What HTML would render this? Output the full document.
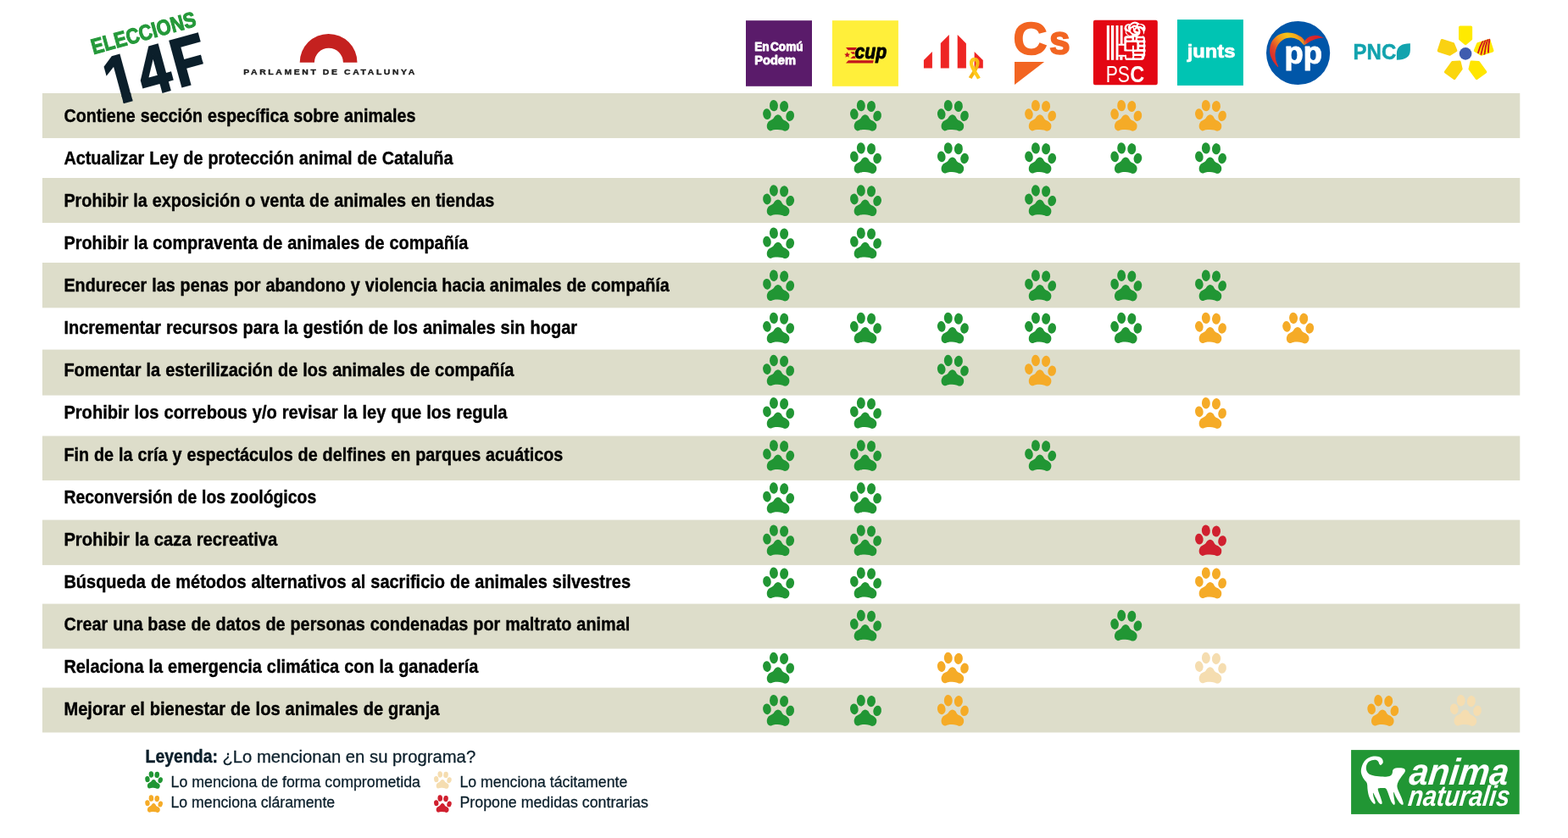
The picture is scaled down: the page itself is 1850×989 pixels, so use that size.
<!DOCTYPE html>
<html lang="es"><head><meta charset="utf-8"><title>Eleccions 14F - AnimaNaturalis</title>
<style>html,body{margin:0;padding:0;background:#fff;}svg{display:block;}text{font-family:"Liberation Sans",sans-serif;}</style>
</head><body>
<svg width="1850" height="989" viewBox="0 0 1850 989">
<rect width="1850" height="989" fill="#fff"/>
<rect x="50" y="110.0" width="1743.3" height="53.0" fill="#DDDDCA"/>
<rect x="50" y="210.0" width="1743.3" height="53.0" fill="#DDDDCA"/>
<rect x="50" y="310.0" width="1743.3" height="53.3" fill="#DDDDCA"/>
<rect x="50" y="412.6" width="1743.3" height="54.0" fill="#DDDDCA"/>
<rect x="50" y="514.5" width="1743.3" height="52.5" fill="#DDDDCA"/>
<rect x="50" y="613.6" width="1743.3" height="53.3" fill="#DDDDCA"/>
<rect x="50" y="712.6" width="1743.3" height="53.0" fill="#DDDDCA"/>
<rect x="50" y="811.6" width="1743.3" height="52.9" fill="#DDDDCA"/>
<text x="75.4" y="143.8" font-size="22.7" font-weight="bold" fill="#000" stroke="#000" stroke-width="0.4" word-spacing="0.5" textLength="415.0" lengthAdjust="spacingAndGlyphs">Contiene sección específica sobre animales</text>
<g transform="translate(918.6 136.4) scale(1.000)" fill="#219634"><ellipse cx="-5.66" cy="-11.75" rx="4.95" ry="6.7" transform="rotate(-3 -5.66 -11.75)"/><ellipse cx="6.5" cy="-10.9" rx="5" ry="6.6" transform="rotate(5 6.5 -10.9)"/><ellipse cx="-13.66" cy="-1.7" rx="4.8" ry="6.4" transform="rotate(-8 -13.66 -1.7)"/><ellipse cx="13.6" cy="0.42" rx="4.8" ry="6.2" transform="rotate(12 13.6 0.42)"/><path d="M-0.70 -1.10 C0.38 -1.07 1.60 -0.33 2.60 0.60 C3.60 1.53 4.13 3.43 5.30 4.50 C6.47 5.57 8.42 6.05 9.60 7.00 C10.78 7.95 11.90 9.03 12.40 10.20 C12.90 11.37 12.87 12.83 12.60 14.00 C12.33 15.17 11.63 16.47 10.80 17.20 C9.97 17.93 8.75 18.40 7.60 18.40 C6.45 18.40 5.33 17.52 3.90 17.20 C2.47 16.88 0.65 16.55 -1.00 16.50 C-2.65 16.45 -4.52 16.65 -6.00 16.90 C-7.48 17.15 -8.75 18.17 -9.90 18.00 C-11.05 17.83 -12.25 16.93 -12.90 15.90 C-13.55 14.87 -13.92 13.18 -13.80 11.80 C-13.68 10.42 -13.00 8.68 -12.20 7.60 C-11.40 6.52 -9.98 5.97 -9.00 5.30 C-8.02 4.63 -7.15 4.42 -6.30 3.60 C-5.45 2.78 -4.83 1.18 -3.90 0.40 C-2.97 -0.38 -1.78 -1.13 -0.70 -1.10Z"/></g>
<g transform="translate(1021.5 136.4) scale(1.000)" fill="#219634"><ellipse cx="-5.66" cy="-11.75" rx="4.95" ry="6.7" transform="rotate(-3 -5.66 -11.75)"/><ellipse cx="6.5" cy="-10.9" rx="5" ry="6.6" transform="rotate(5 6.5 -10.9)"/><ellipse cx="-13.66" cy="-1.7" rx="4.8" ry="6.4" transform="rotate(-8 -13.66 -1.7)"/><ellipse cx="13.6" cy="0.42" rx="4.8" ry="6.2" transform="rotate(12 13.6 0.42)"/><path d="M-0.70 -1.10 C0.38 -1.07 1.60 -0.33 2.60 0.60 C3.60 1.53 4.13 3.43 5.30 4.50 C6.47 5.57 8.42 6.05 9.60 7.00 C10.78 7.95 11.90 9.03 12.40 10.20 C12.90 11.37 12.87 12.83 12.60 14.00 C12.33 15.17 11.63 16.47 10.80 17.20 C9.97 17.93 8.75 18.40 7.60 18.40 C6.45 18.40 5.33 17.52 3.90 17.20 C2.47 16.88 0.65 16.55 -1.00 16.50 C-2.65 16.45 -4.52 16.65 -6.00 16.90 C-7.48 17.15 -8.75 18.17 -9.90 18.00 C-11.05 17.83 -12.25 16.93 -12.90 15.90 C-13.55 14.87 -13.92 13.18 -13.80 11.80 C-13.68 10.42 -13.00 8.68 -12.20 7.60 C-11.40 6.52 -9.98 5.97 -9.00 5.30 C-8.02 4.63 -7.15 4.42 -6.30 3.60 C-5.45 2.78 -4.83 1.18 -3.90 0.40 C-2.97 -0.38 -1.78 -1.13 -0.70 -1.10Z"/></g>
<g transform="translate(1124.4 136.4) scale(1.000)" fill="#219634"><ellipse cx="-5.66" cy="-11.75" rx="4.95" ry="6.7" transform="rotate(-3 -5.66 -11.75)"/><ellipse cx="6.5" cy="-10.9" rx="5" ry="6.6" transform="rotate(5 6.5 -10.9)"/><ellipse cx="-13.66" cy="-1.7" rx="4.8" ry="6.4" transform="rotate(-8 -13.66 -1.7)"/><ellipse cx="13.6" cy="0.42" rx="4.8" ry="6.2" transform="rotate(12 13.6 0.42)"/><path d="M-0.70 -1.10 C0.38 -1.07 1.60 -0.33 2.60 0.60 C3.60 1.53 4.13 3.43 5.30 4.50 C6.47 5.57 8.42 6.05 9.60 7.00 C10.78 7.95 11.90 9.03 12.40 10.20 C12.90 11.37 12.87 12.83 12.60 14.00 C12.33 15.17 11.63 16.47 10.80 17.20 C9.97 17.93 8.75 18.40 7.60 18.40 C6.45 18.40 5.33 17.52 3.90 17.20 C2.47 16.88 0.65 16.55 -1.00 16.50 C-2.65 16.45 -4.52 16.65 -6.00 16.90 C-7.48 17.15 -8.75 18.17 -9.90 18.00 C-11.05 17.83 -12.25 16.93 -12.90 15.90 C-13.55 14.87 -13.92 13.18 -13.80 11.80 C-13.68 10.42 -13.00 8.68 -12.20 7.60 C-11.40 6.52 -9.98 5.97 -9.00 5.30 C-8.02 4.63 -7.15 4.42 -6.30 3.60 C-5.45 2.78 -4.83 1.18 -3.90 0.40 C-2.97 -0.38 -1.78 -1.13 -0.70 -1.10Z"/></g>
<g transform="translate(1227.6 136.4) scale(1.000)" fill="#F5AB27"><ellipse cx="-5.66" cy="-11.75" rx="4.95" ry="6.7" transform="rotate(-3 -5.66 -11.75)"/><ellipse cx="6.5" cy="-10.9" rx="5" ry="6.6" transform="rotate(5 6.5 -10.9)"/><ellipse cx="-13.66" cy="-1.7" rx="4.8" ry="6.4" transform="rotate(-8 -13.66 -1.7)"/><ellipse cx="13.6" cy="0.42" rx="4.8" ry="6.2" transform="rotate(12 13.6 0.42)"/><path d="M-0.70 -1.10 C0.38 -1.07 1.60 -0.33 2.60 0.60 C3.60 1.53 4.13 3.43 5.30 4.50 C6.47 5.57 8.42 6.05 9.60 7.00 C10.78 7.95 11.90 9.03 12.40 10.20 C12.90 11.37 12.87 12.83 12.60 14.00 C12.33 15.17 11.63 16.47 10.80 17.20 C9.97 17.93 8.75 18.40 7.60 18.40 C6.45 18.40 5.33 17.52 3.90 17.20 C2.47 16.88 0.65 16.55 -1.00 16.50 C-2.65 16.45 -4.52 16.65 -6.00 16.90 C-7.48 17.15 -8.75 18.17 -9.90 18.00 C-11.05 17.83 -12.25 16.93 -12.90 15.90 C-13.55 14.87 -13.92 13.18 -13.80 11.80 C-13.68 10.42 -13.00 8.68 -12.20 7.60 C-11.40 6.52 -9.98 5.97 -9.00 5.30 C-8.02 4.63 -7.15 4.42 -6.30 3.60 C-5.45 2.78 -4.83 1.18 -3.90 0.40 C-2.97 -0.38 -1.78 -1.13 -0.70 -1.10Z"/></g>
<g transform="translate(1328.8 136.4) scale(1.000)" fill="#F5AB27"><ellipse cx="-5.66" cy="-11.75" rx="4.95" ry="6.7" transform="rotate(-3 -5.66 -11.75)"/><ellipse cx="6.5" cy="-10.9" rx="5" ry="6.6" transform="rotate(5 6.5 -10.9)"/><ellipse cx="-13.66" cy="-1.7" rx="4.8" ry="6.4" transform="rotate(-8 -13.66 -1.7)"/><ellipse cx="13.6" cy="0.42" rx="4.8" ry="6.2" transform="rotate(12 13.6 0.42)"/><path d="M-0.70 -1.10 C0.38 -1.07 1.60 -0.33 2.60 0.60 C3.60 1.53 4.13 3.43 5.30 4.50 C6.47 5.57 8.42 6.05 9.60 7.00 C10.78 7.95 11.90 9.03 12.40 10.20 C12.90 11.37 12.87 12.83 12.60 14.00 C12.33 15.17 11.63 16.47 10.80 17.20 C9.97 17.93 8.75 18.40 7.60 18.40 C6.45 18.40 5.33 17.52 3.90 17.20 C2.47 16.88 0.65 16.55 -1.00 16.50 C-2.65 16.45 -4.52 16.65 -6.00 16.90 C-7.48 17.15 -8.75 18.17 -9.90 18.00 C-11.05 17.83 -12.25 16.93 -12.90 15.90 C-13.55 14.87 -13.92 13.18 -13.80 11.80 C-13.68 10.42 -13.00 8.68 -12.20 7.60 C-11.40 6.52 -9.98 5.97 -9.00 5.30 C-8.02 4.63 -7.15 4.42 -6.30 3.60 C-5.45 2.78 -4.83 1.18 -3.90 0.40 C-2.97 -0.38 -1.78 -1.13 -0.70 -1.10Z"/></g>
<g transform="translate(1428.5 136.4) scale(1.000)" fill="#F5AB27"><ellipse cx="-5.66" cy="-11.75" rx="4.95" ry="6.7" transform="rotate(-3 -5.66 -11.75)"/><ellipse cx="6.5" cy="-10.9" rx="5" ry="6.6" transform="rotate(5 6.5 -10.9)"/><ellipse cx="-13.66" cy="-1.7" rx="4.8" ry="6.4" transform="rotate(-8 -13.66 -1.7)"/><ellipse cx="13.6" cy="0.42" rx="4.8" ry="6.2" transform="rotate(12 13.6 0.42)"/><path d="M-0.70 -1.10 C0.38 -1.07 1.60 -0.33 2.60 0.60 C3.60 1.53 4.13 3.43 5.30 4.50 C6.47 5.57 8.42 6.05 9.60 7.00 C10.78 7.95 11.90 9.03 12.40 10.20 C12.90 11.37 12.87 12.83 12.60 14.00 C12.33 15.17 11.63 16.47 10.80 17.20 C9.97 17.93 8.75 18.40 7.60 18.40 C6.45 18.40 5.33 17.52 3.90 17.20 C2.47 16.88 0.65 16.55 -1.00 16.50 C-2.65 16.45 -4.52 16.65 -6.00 16.90 C-7.48 17.15 -8.75 18.17 -9.90 18.00 C-11.05 17.83 -12.25 16.93 -12.90 15.90 C-13.55 14.87 -13.92 13.18 -13.80 11.80 C-13.68 10.42 -13.00 8.68 -12.20 7.60 C-11.40 6.52 -9.98 5.97 -9.00 5.30 C-8.02 4.63 -7.15 4.42 -6.30 3.60 C-5.45 2.78 -4.83 1.18 -3.90 0.40 C-2.97 -0.38 -1.78 -1.13 -0.70 -1.10Z"/></g>
<text x="75.4" y="193.8" font-size="22.7" font-weight="bold" fill="#000" stroke="#000" stroke-width="0.4" word-spacing="0.5" textLength="459.1" lengthAdjust="spacingAndGlyphs">Actualizar Ley de protección animal de Cataluña</text>
<g transform="translate(1021.5 186.6) scale(1.000)" fill="#219634"><ellipse cx="-5.66" cy="-11.75" rx="4.95" ry="6.7" transform="rotate(-3 -5.66 -11.75)"/><ellipse cx="6.5" cy="-10.9" rx="5" ry="6.6" transform="rotate(5 6.5 -10.9)"/><ellipse cx="-13.66" cy="-1.7" rx="4.8" ry="6.4" transform="rotate(-8 -13.66 -1.7)"/><ellipse cx="13.6" cy="0.42" rx="4.8" ry="6.2" transform="rotate(12 13.6 0.42)"/><path d="M-0.70 -1.10 C0.38 -1.07 1.60 -0.33 2.60 0.60 C3.60 1.53 4.13 3.43 5.30 4.50 C6.47 5.57 8.42 6.05 9.60 7.00 C10.78 7.95 11.90 9.03 12.40 10.20 C12.90 11.37 12.87 12.83 12.60 14.00 C12.33 15.17 11.63 16.47 10.80 17.20 C9.97 17.93 8.75 18.40 7.60 18.40 C6.45 18.40 5.33 17.52 3.90 17.20 C2.47 16.88 0.65 16.55 -1.00 16.50 C-2.65 16.45 -4.52 16.65 -6.00 16.90 C-7.48 17.15 -8.75 18.17 -9.90 18.00 C-11.05 17.83 -12.25 16.93 -12.90 15.90 C-13.55 14.87 -13.92 13.18 -13.80 11.80 C-13.68 10.42 -13.00 8.68 -12.20 7.60 C-11.40 6.52 -9.98 5.97 -9.00 5.30 C-8.02 4.63 -7.15 4.42 -6.30 3.60 C-5.45 2.78 -4.83 1.18 -3.90 0.40 C-2.97 -0.38 -1.78 -1.13 -0.70 -1.10Z"/></g>
<g transform="translate(1124.4 186.6) scale(1.000)" fill="#219634"><ellipse cx="-5.66" cy="-11.75" rx="4.95" ry="6.7" transform="rotate(-3 -5.66 -11.75)"/><ellipse cx="6.5" cy="-10.9" rx="5" ry="6.6" transform="rotate(5 6.5 -10.9)"/><ellipse cx="-13.66" cy="-1.7" rx="4.8" ry="6.4" transform="rotate(-8 -13.66 -1.7)"/><ellipse cx="13.6" cy="0.42" rx="4.8" ry="6.2" transform="rotate(12 13.6 0.42)"/><path d="M-0.70 -1.10 C0.38 -1.07 1.60 -0.33 2.60 0.60 C3.60 1.53 4.13 3.43 5.30 4.50 C6.47 5.57 8.42 6.05 9.60 7.00 C10.78 7.95 11.90 9.03 12.40 10.20 C12.90 11.37 12.87 12.83 12.60 14.00 C12.33 15.17 11.63 16.47 10.80 17.20 C9.97 17.93 8.75 18.40 7.60 18.40 C6.45 18.40 5.33 17.52 3.90 17.20 C2.47 16.88 0.65 16.55 -1.00 16.50 C-2.65 16.45 -4.52 16.65 -6.00 16.90 C-7.48 17.15 -8.75 18.17 -9.90 18.00 C-11.05 17.83 -12.25 16.93 -12.90 15.90 C-13.55 14.87 -13.92 13.18 -13.80 11.80 C-13.68 10.42 -13.00 8.68 -12.20 7.60 C-11.40 6.52 -9.98 5.97 -9.00 5.30 C-8.02 4.63 -7.15 4.42 -6.30 3.60 C-5.45 2.78 -4.83 1.18 -3.90 0.40 C-2.97 -0.38 -1.78 -1.13 -0.70 -1.10Z"/></g>
<g transform="translate(1227.6 186.6) scale(1.000)" fill="#219634"><ellipse cx="-5.66" cy="-11.75" rx="4.95" ry="6.7" transform="rotate(-3 -5.66 -11.75)"/><ellipse cx="6.5" cy="-10.9" rx="5" ry="6.6" transform="rotate(5 6.5 -10.9)"/><ellipse cx="-13.66" cy="-1.7" rx="4.8" ry="6.4" transform="rotate(-8 -13.66 -1.7)"/><ellipse cx="13.6" cy="0.42" rx="4.8" ry="6.2" transform="rotate(12 13.6 0.42)"/><path d="M-0.70 -1.10 C0.38 -1.07 1.60 -0.33 2.60 0.60 C3.60 1.53 4.13 3.43 5.30 4.50 C6.47 5.57 8.42 6.05 9.60 7.00 C10.78 7.95 11.90 9.03 12.40 10.20 C12.90 11.37 12.87 12.83 12.60 14.00 C12.33 15.17 11.63 16.47 10.80 17.20 C9.97 17.93 8.75 18.40 7.60 18.40 C6.45 18.40 5.33 17.52 3.90 17.20 C2.47 16.88 0.65 16.55 -1.00 16.50 C-2.65 16.45 -4.52 16.65 -6.00 16.90 C-7.48 17.15 -8.75 18.17 -9.90 18.00 C-11.05 17.83 -12.25 16.93 -12.90 15.90 C-13.55 14.87 -13.92 13.18 -13.80 11.80 C-13.68 10.42 -13.00 8.68 -12.20 7.60 C-11.40 6.52 -9.98 5.97 -9.00 5.30 C-8.02 4.63 -7.15 4.42 -6.30 3.60 C-5.45 2.78 -4.83 1.18 -3.90 0.40 C-2.97 -0.38 -1.78 -1.13 -0.70 -1.10Z"/></g>
<g transform="translate(1328.8 186.6) scale(1.000)" fill="#219634"><ellipse cx="-5.66" cy="-11.75" rx="4.95" ry="6.7" transform="rotate(-3 -5.66 -11.75)"/><ellipse cx="6.5" cy="-10.9" rx="5" ry="6.6" transform="rotate(5 6.5 -10.9)"/><ellipse cx="-13.66" cy="-1.7" rx="4.8" ry="6.4" transform="rotate(-8 -13.66 -1.7)"/><ellipse cx="13.6" cy="0.42" rx="4.8" ry="6.2" transform="rotate(12 13.6 0.42)"/><path d="M-0.70 -1.10 C0.38 -1.07 1.60 -0.33 2.60 0.60 C3.60 1.53 4.13 3.43 5.30 4.50 C6.47 5.57 8.42 6.05 9.60 7.00 C10.78 7.95 11.90 9.03 12.40 10.20 C12.90 11.37 12.87 12.83 12.60 14.00 C12.33 15.17 11.63 16.47 10.80 17.20 C9.97 17.93 8.75 18.40 7.60 18.40 C6.45 18.40 5.33 17.52 3.90 17.20 C2.47 16.88 0.65 16.55 -1.00 16.50 C-2.65 16.45 -4.52 16.65 -6.00 16.90 C-7.48 17.15 -8.75 18.17 -9.90 18.00 C-11.05 17.83 -12.25 16.93 -12.90 15.90 C-13.55 14.87 -13.92 13.18 -13.80 11.80 C-13.68 10.42 -13.00 8.68 -12.20 7.60 C-11.40 6.52 -9.98 5.97 -9.00 5.30 C-8.02 4.63 -7.15 4.42 -6.30 3.60 C-5.45 2.78 -4.83 1.18 -3.90 0.40 C-2.97 -0.38 -1.78 -1.13 -0.70 -1.10Z"/></g>
<g transform="translate(1428.5 186.6) scale(1.000)" fill="#219634"><ellipse cx="-5.66" cy="-11.75" rx="4.95" ry="6.7" transform="rotate(-3 -5.66 -11.75)"/><ellipse cx="6.5" cy="-10.9" rx="5" ry="6.6" transform="rotate(5 6.5 -10.9)"/><ellipse cx="-13.66" cy="-1.7" rx="4.8" ry="6.4" transform="rotate(-8 -13.66 -1.7)"/><ellipse cx="13.6" cy="0.42" rx="4.8" ry="6.2" transform="rotate(12 13.6 0.42)"/><path d="M-0.70 -1.10 C0.38 -1.07 1.60 -0.33 2.60 0.60 C3.60 1.53 4.13 3.43 5.30 4.50 C6.47 5.57 8.42 6.05 9.60 7.00 C10.78 7.95 11.90 9.03 12.40 10.20 C12.90 11.37 12.87 12.83 12.60 14.00 C12.33 15.17 11.63 16.47 10.80 17.20 C9.97 17.93 8.75 18.40 7.60 18.40 C6.45 18.40 5.33 17.52 3.90 17.20 C2.47 16.88 0.65 16.55 -1.00 16.50 C-2.65 16.45 -4.52 16.65 -6.00 16.90 C-7.48 17.15 -8.75 18.17 -9.90 18.00 C-11.05 17.83 -12.25 16.93 -12.90 15.90 C-13.55 14.87 -13.92 13.18 -13.80 11.80 C-13.68 10.42 -13.00 8.68 -12.20 7.60 C-11.40 6.52 -9.98 5.97 -9.00 5.30 C-8.02 4.63 -7.15 4.42 -6.30 3.60 C-5.45 2.78 -4.83 1.18 -3.90 0.40 C-2.97 -0.38 -1.78 -1.13 -0.70 -1.10Z"/></g>
<text x="75.4" y="243.8" font-size="22.7" font-weight="bold" fill="#000" stroke="#000" stroke-width="0.4" word-spacing="0.5" textLength="508.0" lengthAdjust="spacingAndGlyphs">Prohibir la exposición o venta de animales en tiendas</text>
<g transform="translate(918.6 236.7) scale(1.000)" fill="#219634"><ellipse cx="-5.66" cy="-11.75" rx="4.95" ry="6.7" transform="rotate(-3 -5.66 -11.75)"/><ellipse cx="6.5" cy="-10.9" rx="5" ry="6.6" transform="rotate(5 6.5 -10.9)"/><ellipse cx="-13.66" cy="-1.7" rx="4.8" ry="6.4" transform="rotate(-8 -13.66 -1.7)"/><ellipse cx="13.6" cy="0.42" rx="4.8" ry="6.2" transform="rotate(12 13.6 0.42)"/><path d="M-0.70 -1.10 C0.38 -1.07 1.60 -0.33 2.60 0.60 C3.60 1.53 4.13 3.43 5.30 4.50 C6.47 5.57 8.42 6.05 9.60 7.00 C10.78 7.95 11.90 9.03 12.40 10.20 C12.90 11.37 12.87 12.83 12.60 14.00 C12.33 15.17 11.63 16.47 10.80 17.20 C9.97 17.93 8.75 18.40 7.60 18.40 C6.45 18.40 5.33 17.52 3.90 17.20 C2.47 16.88 0.65 16.55 -1.00 16.50 C-2.65 16.45 -4.52 16.65 -6.00 16.90 C-7.48 17.15 -8.75 18.17 -9.90 18.00 C-11.05 17.83 -12.25 16.93 -12.90 15.90 C-13.55 14.87 -13.92 13.18 -13.80 11.80 C-13.68 10.42 -13.00 8.68 -12.20 7.60 C-11.40 6.52 -9.98 5.97 -9.00 5.30 C-8.02 4.63 -7.15 4.42 -6.30 3.60 C-5.45 2.78 -4.83 1.18 -3.90 0.40 C-2.97 -0.38 -1.78 -1.13 -0.70 -1.10Z"/></g>
<g transform="translate(1021.5 236.7) scale(1.000)" fill="#219634"><ellipse cx="-5.66" cy="-11.75" rx="4.95" ry="6.7" transform="rotate(-3 -5.66 -11.75)"/><ellipse cx="6.5" cy="-10.9" rx="5" ry="6.6" transform="rotate(5 6.5 -10.9)"/><ellipse cx="-13.66" cy="-1.7" rx="4.8" ry="6.4" transform="rotate(-8 -13.66 -1.7)"/><ellipse cx="13.6" cy="0.42" rx="4.8" ry="6.2" transform="rotate(12 13.6 0.42)"/><path d="M-0.70 -1.10 C0.38 -1.07 1.60 -0.33 2.60 0.60 C3.60 1.53 4.13 3.43 5.30 4.50 C6.47 5.57 8.42 6.05 9.60 7.00 C10.78 7.95 11.90 9.03 12.40 10.20 C12.90 11.37 12.87 12.83 12.60 14.00 C12.33 15.17 11.63 16.47 10.80 17.20 C9.97 17.93 8.75 18.40 7.60 18.40 C6.45 18.40 5.33 17.52 3.90 17.20 C2.47 16.88 0.65 16.55 -1.00 16.50 C-2.65 16.45 -4.52 16.65 -6.00 16.90 C-7.48 17.15 -8.75 18.17 -9.90 18.00 C-11.05 17.83 -12.25 16.93 -12.90 15.90 C-13.55 14.87 -13.92 13.18 -13.80 11.80 C-13.68 10.42 -13.00 8.68 -12.20 7.60 C-11.40 6.52 -9.98 5.97 -9.00 5.30 C-8.02 4.63 -7.15 4.42 -6.30 3.60 C-5.45 2.78 -4.83 1.18 -3.90 0.40 C-2.97 -0.38 -1.78 -1.13 -0.70 -1.10Z"/></g>
<g transform="translate(1227.6 236.7) scale(1.000)" fill="#219634"><ellipse cx="-5.66" cy="-11.75" rx="4.95" ry="6.7" transform="rotate(-3 -5.66 -11.75)"/><ellipse cx="6.5" cy="-10.9" rx="5" ry="6.6" transform="rotate(5 6.5 -10.9)"/><ellipse cx="-13.66" cy="-1.7" rx="4.8" ry="6.4" transform="rotate(-8 -13.66 -1.7)"/><ellipse cx="13.6" cy="0.42" rx="4.8" ry="6.2" transform="rotate(12 13.6 0.42)"/><path d="M-0.70 -1.10 C0.38 -1.07 1.60 -0.33 2.60 0.60 C3.60 1.53 4.13 3.43 5.30 4.50 C6.47 5.57 8.42 6.05 9.60 7.00 C10.78 7.95 11.90 9.03 12.40 10.20 C12.90 11.37 12.87 12.83 12.60 14.00 C12.33 15.17 11.63 16.47 10.80 17.20 C9.97 17.93 8.75 18.40 7.60 18.40 C6.45 18.40 5.33 17.52 3.90 17.20 C2.47 16.88 0.65 16.55 -1.00 16.50 C-2.65 16.45 -4.52 16.65 -6.00 16.90 C-7.48 17.15 -8.75 18.17 -9.90 18.00 C-11.05 17.83 -12.25 16.93 -12.90 15.90 C-13.55 14.87 -13.92 13.18 -13.80 11.80 C-13.68 10.42 -13.00 8.68 -12.20 7.60 C-11.40 6.52 -9.98 5.97 -9.00 5.30 C-8.02 4.63 -7.15 4.42 -6.30 3.60 C-5.45 2.78 -4.83 1.18 -3.90 0.40 C-2.97 -0.38 -1.78 -1.13 -0.70 -1.10Z"/></g>
<text x="75.4" y="293.8" font-size="22.7" font-weight="bold" fill="#000" stroke="#000" stroke-width="0.4" word-spacing="0.5" textLength="477.0" lengthAdjust="spacingAndGlyphs">Prohibir la compraventa de animales de compañía</text>
<g transform="translate(918.6 286.9) scale(1.000)" fill="#219634"><ellipse cx="-5.66" cy="-11.75" rx="4.95" ry="6.7" transform="rotate(-3 -5.66 -11.75)"/><ellipse cx="6.5" cy="-10.9" rx="5" ry="6.6" transform="rotate(5 6.5 -10.9)"/><ellipse cx="-13.66" cy="-1.7" rx="4.8" ry="6.4" transform="rotate(-8 -13.66 -1.7)"/><ellipse cx="13.6" cy="0.42" rx="4.8" ry="6.2" transform="rotate(12 13.6 0.42)"/><path d="M-0.70 -1.10 C0.38 -1.07 1.60 -0.33 2.60 0.60 C3.60 1.53 4.13 3.43 5.30 4.50 C6.47 5.57 8.42 6.05 9.60 7.00 C10.78 7.95 11.90 9.03 12.40 10.20 C12.90 11.37 12.87 12.83 12.60 14.00 C12.33 15.17 11.63 16.47 10.80 17.20 C9.97 17.93 8.75 18.40 7.60 18.40 C6.45 18.40 5.33 17.52 3.90 17.20 C2.47 16.88 0.65 16.55 -1.00 16.50 C-2.65 16.45 -4.52 16.65 -6.00 16.90 C-7.48 17.15 -8.75 18.17 -9.90 18.00 C-11.05 17.83 -12.25 16.93 -12.90 15.90 C-13.55 14.87 -13.92 13.18 -13.80 11.80 C-13.68 10.42 -13.00 8.68 -12.20 7.60 C-11.40 6.52 -9.98 5.97 -9.00 5.30 C-8.02 4.63 -7.15 4.42 -6.30 3.60 C-5.45 2.78 -4.83 1.18 -3.90 0.40 C-2.97 -0.38 -1.78 -1.13 -0.70 -1.10Z"/></g>
<g transform="translate(1021.5 286.9) scale(1.000)" fill="#219634"><ellipse cx="-5.66" cy="-11.75" rx="4.95" ry="6.7" transform="rotate(-3 -5.66 -11.75)"/><ellipse cx="6.5" cy="-10.9" rx="5" ry="6.6" transform="rotate(5 6.5 -10.9)"/><ellipse cx="-13.66" cy="-1.7" rx="4.8" ry="6.4" transform="rotate(-8 -13.66 -1.7)"/><ellipse cx="13.6" cy="0.42" rx="4.8" ry="6.2" transform="rotate(12 13.6 0.42)"/><path d="M-0.70 -1.10 C0.38 -1.07 1.60 -0.33 2.60 0.60 C3.60 1.53 4.13 3.43 5.30 4.50 C6.47 5.57 8.42 6.05 9.60 7.00 C10.78 7.95 11.90 9.03 12.40 10.20 C12.90 11.37 12.87 12.83 12.60 14.00 C12.33 15.17 11.63 16.47 10.80 17.20 C9.97 17.93 8.75 18.40 7.60 18.40 C6.45 18.40 5.33 17.52 3.90 17.20 C2.47 16.88 0.65 16.55 -1.00 16.50 C-2.65 16.45 -4.52 16.65 -6.00 16.90 C-7.48 17.15 -8.75 18.17 -9.90 18.00 C-11.05 17.83 -12.25 16.93 -12.90 15.90 C-13.55 14.87 -13.92 13.18 -13.80 11.80 C-13.68 10.42 -13.00 8.68 -12.20 7.60 C-11.40 6.52 -9.98 5.97 -9.00 5.30 C-8.02 4.63 -7.15 4.42 -6.30 3.60 C-5.45 2.78 -4.83 1.18 -3.90 0.40 C-2.97 -0.38 -1.78 -1.13 -0.70 -1.10Z"/></g>
<text x="75.4" y="343.8" font-size="22.7" font-weight="bold" fill="#000" stroke="#000" stroke-width="0.4" word-spacing="0.5" textLength="714.4" lengthAdjust="spacingAndGlyphs">Endurecer las penas por abandono y violencia hacia animales de compañía</text>
<g transform="translate(918.6 337.0) scale(1.000)" fill="#219634"><ellipse cx="-5.66" cy="-11.75" rx="4.95" ry="6.7" transform="rotate(-3 -5.66 -11.75)"/><ellipse cx="6.5" cy="-10.9" rx="5" ry="6.6" transform="rotate(5 6.5 -10.9)"/><ellipse cx="-13.66" cy="-1.7" rx="4.8" ry="6.4" transform="rotate(-8 -13.66 -1.7)"/><ellipse cx="13.6" cy="0.42" rx="4.8" ry="6.2" transform="rotate(12 13.6 0.42)"/><path d="M-0.70 -1.10 C0.38 -1.07 1.60 -0.33 2.60 0.60 C3.60 1.53 4.13 3.43 5.30 4.50 C6.47 5.57 8.42 6.05 9.60 7.00 C10.78 7.95 11.90 9.03 12.40 10.20 C12.90 11.37 12.87 12.83 12.60 14.00 C12.33 15.17 11.63 16.47 10.80 17.20 C9.97 17.93 8.75 18.40 7.60 18.40 C6.45 18.40 5.33 17.52 3.90 17.20 C2.47 16.88 0.65 16.55 -1.00 16.50 C-2.65 16.45 -4.52 16.65 -6.00 16.90 C-7.48 17.15 -8.75 18.17 -9.90 18.00 C-11.05 17.83 -12.25 16.93 -12.90 15.90 C-13.55 14.87 -13.92 13.18 -13.80 11.80 C-13.68 10.42 -13.00 8.68 -12.20 7.60 C-11.40 6.52 -9.98 5.97 -9.00 5.30 C-8.02 4.63 -7.15 4.42 -6.30 3.60 C-5.45 2.78 -4.83 1.18 -3.90 0.40 C-2.97 -0.38 -1.78 -1.13 -0.70 -1.10Z"/></g>
<g transform="translate(1227.6 337.0) scale(1.000)" fill="#219634"><ellipse cx="-5.66" cy="-11.75" rx="4.95" ry="6.7" transform="rotate(-3 -5.66 -11.75)"/><ellipse cx="6.5" cy="-10.9" rx="5" ry="6.6" transform="rotate(5 6.5 -10.9)"/><ellipse cx="-13.66" cy="-1.7" rx="4.8" ry="6.4" transform="rotate(-8 -13.66 -1.7)"/><ellipse cx="13.6" cy="0.42" rx="4.8" ry="6.2" transform="rotate(12 13.6 0.42)"/><path d="M-0.70 -1.10 C0.38 -1.07 1.60 -0.33 2.60 0.60 C3.60 1.53 4.13 3.43 5.30 4.50 C6.47 5.57 8.42 6.05 9.60 7.00 C10.78 7.95 11.90 9.03 12.40 10.20 C12.90 11.37 12.87 12.83 12.60 14.00 C12.33 15.17 11.63 16.47 10.80 17.20 C9.97 17.93 8.75 18.40 7.60 18.40 C6.45 18.40 5.33 17.52 3.90 17.20 C2.47 16.88 0.65 16.55 -1.00 16.50 C-2.65 16.45 -4.52 16.65 -6.00 16.90 C-7.48 17.15 -8.75 18.17 -9.90 18.00 C-11.05 17.83 -12.25 16.93 -12.90 15.90 C-13.55 14.87 -13.92 13.18 -13.80 11.80 C-13.68 10.42 -13.00 8.68 -12.20 7.60 C-11.40 6.52 -9.98 5.97 -9.00 5.30 C-8.02 4.63 -7.15 4.42 -6.30 3.60 C-5.45 2.78 -4.83 1.18 -3.90 0.40 C-2.97 -0.38 -1.78 -1.13 -0.70 -1.10Z"/></g>
<g transform="translate(1328.8 337.0) scale(1.000)" fill="#219634"><ellipse cx="-5.66" cy="-11.75" rx="4.95" ry="6.7" transform="rotate(-3 -5.66 -11.75)"/><ellipse cx="6.5" cy="-10.9" rx="5" ry="6.6" transform="rotate(5 6.5 -10.9)"/><ellipse cx="-13.66" cy="-1.7" rx="4.8" ry="6.4" transform="rotate(-8 -13.66 -1.7)"/><ellipse cx="13.6" cy="0.42" rx="4.8" ry="6.2" transform="rotate(12 13.6 0.42)"/><path d="M-0.70 -1.10 C0.38 -1.07 1.60 -0.33 2.60 0.60 C3.60 1.53 4.13 3.43 5.30 4.50 C6.47 5.57 8.42 6.05 9.60 7.00 C10.78 7.95 11.90 9.03 12.40 10.20 C12.90 11.37 12.87 12.83 12.60 14.00 C12.33 15.17 11.63 16.47 10.80 17.20 C9.97 17.93 8.75 18.40 7.60 18.40 C6.45 18.40 5.33 17.52 3.90 17.20 C2.47 16.88 0.65 16.55 -1.00 16.50 C-2.65 16.45 -4.52 16.65 -6.00 16.90 C-7.48 17.15 -8.75 18.17 -9.90 18.00 C-11.05 17.83 -12.25 16.93 -12.90 15.90 C-13.55 14.87 -13.92 13.18 -13.80 11.80 C-13.68 10.42 -13.00 8.68 -12.20 7.60 C-11.40 6.52 -9.98 5.97 -9.00 5.30 C-8.02 4.63 -7.15 4.42 -6.30 3.60 C-5.45 2.78 -4.83 1.18 -3.90 0.40 C-2.97 -0.38 -1.78 -1.13 -0.70 -1.10Z"/></g>
<g transform="translate(1428.5 337.0) scale(1.000)" fill="#219634"><ellipse cx="-5.66" cy="-11.75" rx="4.95" ry="6.7" transform="rotate(-3 -5.66 -11.75)"/><ellipse cx="6.5" cy="-10.9" rx="5" ry="6.6" transform="rotate(5 6.5 -10.9)"/><ellipse cx="-13.66" cy="-1.7" rx="4.8" ry="6.4" transform="rotate(-8 -13.66 -1.7)"/><ellipse cx="13.6" cy="0.42" rx="4.8" ry="6.2" transform="rotate(12 13.6 0.42)"/><path d="M-0.70 -1.10 C0.38 -1.07 1.60 -0.33 2.60 0.60 C3.60 1.53 4.13 3.43 5.30 4.50 C6.47 5.57 8.42 6.05 9.60 7.00 C10.78 7.95 11.90 9.03 12.40 10.20 C12.90 11.37 12.87 12.83 12.60 14.00 C12.33 15.17 11.63 16.47 10.80 17.20 C9.97 17.93 8.75 18.40 7.60 18.40 C6.45 18.40 5.33 17.52 3.90 17.20 C2.47 16.88 0.65 16.55 -1.00 16.50 C-2.65 16.45 -4.52 16.65 -6.00 16.90 C-7.48 17.15 -8.75 18.17 -9.90 18.00 C-11.05 17.83 -12.25 16.93 -12.90 15.90 C-13.55 14.87 -13.92 13.18 -13.80 11.80 C-13.68 10.42 -13.00 8.68 -12.20 7.60 C-11.40 6.52 -9.98 5.97 -9.00 5.30 C-8.02 4.63 -7.15 4.42 -6.30 3.60 C-5.45 2.78 -4.83 1.18 -3.90 0.40 C-2.97 -0.38 -1.78 -1.13 -0.70 -1.10Z"/></g>
<text x="75.4" y="393.8" font-size="22.7" font-weight="bold" fill="#000" stroke="#000" stroke-width="0.4" word-spacing="0.5" textLength="605.7" lengthAdjust="spacingAndGlyphs">Incrementar recursos para la gestión de los animales sin hogar</text>
<g transform="translate(918.6 387.1) scale(1.000)" fill="#219634"><ellipse cx="-5.66" cy="-11.75" rx="4.95" ry="6.7" transform="rotate(-3 -5.66 -11.75)"/><ellipse cx="6.5" cy="-10.9" rx="5" ry="6.6" transform="rotate(5 6.5 -10.9)"/><ellipse cx="-13.66" cy="-1.7" rx="4.8" ry="6.4" transform="rotate(-8 -13.66 -1.7)"/><ellipse cx="13.6" cy="0.42" rx="4.8" ry="6.2" transform="rotate(12 13.6 0.42)"/><path d="M-0.70 -1.10 C0.38 -1.07 1.60 -0.33 2.60 0.60 C3.60 1.53 4.13 3.43 5.30 4.50 C6.47 5.57 8.42 6.05 9.60 7.00 C10.78 7.95 11.90 9.03 12.40 10.20 C12.90 11.37 12.87 12.83 12.60 14.00 C12.33 15.17 11.63 16.47 10.80 17.20 C9.97 17.93 8.75 18.40 7.60 18.40 C6.45 18.40 5.33 17.52 3.90 17.20 C2.47 16.88 0.65 16.55 -1.00 16.50 C-2.65 16.45 -4.52 16.65 -6.00 16.90 C-7.48 17.15 -8.75 18.17 -9.90 18.00 C-11.05 17.83 -12.25 16.93 -12.90 15.90 C-13.55 14.87 -13.92 13.18 -13.80 11.80 C-13.68 10.42 -13.00 8.68 -12.20 7.60 C-11.40 6.52 -9.98 5.97 -9.00 5.30 C-8.02 4.63 -7.15 4.42 -6.30 3.60 C-5.45 2.78 -4.83 1.18 -3.90 0.40 C-2.97 -0.38 -1.78 -1.13 -0.70 -1.10Z"/></g>
<g transform="translate(1021.5 387.1) scale(1.000)" fill="#219634"><ellipse cx="-5.66" cy="-11.75" rx="4.95" ry="6.7" transform="rotate(-3 -5.66 -11.75)"/><ellipse cx="6.5" cy="-10.9" rx="5" ry="6.6" transform="rotate(5 6.5 -10.9)"/><ellipse cx="-13.66" cy="-1.7" rx="4.8" ry="6.4" transform="rotate(-8 -13.66 -1.7)"/><ellipse cx="13.6" cy="0.42" rx="4.8" ry="6.2" transform="rotate(12 13.6 0.42)"/><path d="M-0.70 -1.10 C0.38 -1.07 1.60 -0.33 2.60 0.60 C3.60 1.53 4.13 3.43 5.30 4.50 C6.47 5.57 8.42 6.05 9.60 7.00 C10.78 7.95 11.90 9.03 12.40 10.20 C12.90 11.37 12.87 12.83 12.60 14.00 C12.33 15.17 11.63 16.47 10.80 17.20 C9.97 17.93 8.75 18.40 7.60 18.40 C6.45 18.40 5.33 17.52 3.90 17.20 C2.47 16.88 0.65 16.55 -1.00 16.50 C-2.65 16.45 -4.52 16.65 -6.00 16.90 C-7.48 17.15 -8.75 18.17 -9.90 18.00 C-11.05 17.83 -12.25 16.93 -12.90 15.90 C-13.55 14.87 -13.92 13.18 -13.80 11.80 C-13.68 10.42 -13.00 8.68 -12.20 7.60 C-11.40 6.52 -9.98 5.97 -9.00 5.30 C-8.02 4.63 -7.15 4.42 -6.30 3.60 C-5.45 2.78 -4.83 1.18 -3.90 0.40 C-2.97 -0.38 -1.78 -1.13 -0.70 -1.10Z"/></g>
<g transform="translate(1124.4 387.1) scale(1.000)" fill="#219634"><ellipse cx="-5.66" cy="-11.75" rx="4.95" ry="6.7" transform="rotate(-3 -5.66 -11.75)"/><ellipse cx="6.5" cy="-10.9" rx="5" ry="6.6" transform="rotate(5 6.5 -10.9)"/><ellipse cx="-13.66" cy="-1.7" rx="4.8" ry="6.4" transform="rotate(-8 -13.66 -1.7)"/><ellipse cx="13.6" cy="0.42" rx="4.8" ry="6.2" transform="rotate(12 13.6 0.42)"/><path d="M-0.70 -1.10 C0.38 -1.07 1.60 -0.33 2.60 0.60 C3.60 1.53 4.13 3.43 5.30 4.50 C6.47 5.57 8.42 6.05 9.60 7.00 C10.78 7.95 11.90 9.03 12.40 10.20 C12.90 11.37 12.87 12.83 12.60 14.00 C12.33 15.17 11.63 16.47 10.80 17.20 C9.97 17.93 8.75 18.40 7.60 18.40 C6.45 18.40 5.33 17.52 3.90 17.20 C2.47 16.88 0.65 16.55 -1.00 16.50 C-2.65 16.45 -4.52 16.65 -6.00 16.90 C-7.48 17.15 -8.75 18.17 -9.90 18.00 C-11.05 17.83 -12.25 16.93 -12.90 15.90 C-13.55 14.87 -13.92 13.18 -13.80 11.80 C-13.68 10.42 -13.00 8.68 -12.20 7.60 C-11.40 6.52 -9.98 5.97 -9.00 5.30 C-8.02 4.63 -7.15 4.42 -6.30 3.60 C-5.45 2.78 -4.83 1.18 -3.90 0.40 C-2.97 -0.38 -1.78 -1.13 -0.70 -1.10Z"/></g>
<g transform="translate(1227.6 387.1) scale(1.000)" fill="#219634"><ellipse cx="-5.66" cy="-11.75" rx="4.95" ry="6.7" transform="rotate(-3 -5.66 -11.75)"/><ellipse cx="6.5" cy="-10.9" rx="5" ry="6.6" transform="rotate(5 6.5 -10.9)"/><ellipse cx="-13.66" cy="-1.7" rx="4.8" ry="6.4" transform="rotate(-8 -13.66 -1.7)"/><ellipse cx="13.6" cy="0.42" rx="4.8" ry="6.2" transform="rotate(12 13.6 0.42)"/><path d="M-0.70 -1.10 C0.38 -1.07 1.60 -0.33 2.60 0.60 C3.60 1.53 4.13 3.43 5.30 4.50 C6.47 5.57 8.42 6.05 9.60 7.00 C10.78 7.95 11.90 9.03 12.40 10.20 C12.90 11.37 12.87 12.83 12.60 14.00 C12.33 15.17 11.63 16.47 10.80 17.20 C9.97 17.93 8.75 18.40 7.60 18.40 C6.45 18.40 5.33 17.52 3.90 17.20 C2.47 16.88 0.65 16.55 -1.00 16.50 C-2.65 16.45 -4.52 16.65 -6.00 16.90 C-7.48 17.15 -8.75 18.17 -9.90 18.00 C-11.05 17.83 -12.25 16.93 -12.90 15.90 C-13.55 14.87 -13.92 13.18 -13.80 11.80 C-13.68 10.42 -13.00 8.68 -12.20 7.60 C-11.40 6.52 -9.98 5.97 -9.00 5.30 C-8.02 4.63 -7.15 4.42 -6.30 3.60 C-5.45 2.78 -4.83 1.18 -3.90 0.40 C-2.97 -0.38 -1.78 -1.13 -0.70 -1.10Z"/></g>
<g transform="translate(1328.8 387.1) scale(1.000)" fill="#219634"><ellipse cx="-5.66" cy="-11.75" rx="4.95" ry="6.7" transform="rotate(-3 -5.66 -11.75)"/><ellipse cx="6.5" cy="-10.9" rx="5" ry="6.6" transform="rotate(5 6.5 -10.9)"/><ellipse cx="-13.66" cy="-1.7" rx="4.8" ry="6.4" transform="rotate(-8 -13.66 -1.7)"/><ellipse cx="13.6" cy="0.42" rx="4.8" ry="6.2" transform="rotate(12 13.6 0.42)"/><path d="M-0.70 -1.10 C0.38 -1.07 1.60 -0.33 2.60 0.60 C3.60 1.53 4.13 3.43 5.30 4.50 C6.47 5.57 8.42 6.05 9.60 7.00 C10.78 7.95 11.90 9.03 12.40 10.20 C12.90 11.37 12.87 12.83 12.60 14.00 C12.33 15.17 11.63 16.47 10.80 17.20 C9.97 17.93 8.75 18.40 7.60 18.40 C6.45 18.40 5.33 17.52 3.90 17.20 C2.47 16.88 0.65 16.55 -1.00 16.50 C-2.65 16.45 -4.52 16.65 -6.00 16.90 C-7.48 17.15 -8.75 18.17 -9.90 18.00 C-11.05 17.83 -12.25 16.93 -12.90 15.90 C-13.55 14.87 -13.92 13.18 -13.80 11.80 C-13.68 10.42 -13.00 8.68 -12.20 7.60 C-11.40 6.52 -9.98 5.97 -9.00 5.30 C-8.02 4.63 -7.15 4.42 -6.30 3.60 C-5.45 2.78 -4.83 1.18 -3.90 0.40 C-2.97 -0.38 -1.78 -1.13 -0.70 -1.10Z"/></g>
<g transform="translate(1428.5 387.1) scale(1.000)" fill="#F5AB27"><ellipse cx="-5.66" cy="-11.75" rx="4.95" ry="6.7" transform="rotate(-3 -5.66 -11.75)"/><ellipse cx="6.5" cy="-10.9" rx="5" ry="6.6" transform="rotate(5 6.5 -10.9)"/><ellipse cx="-13.66" cy="-1.7" rx="4.8" ry="6.4" transform="rotate(-8 -13.66 -1.7)"/><ellipse cx="13.6" cy="0.42" rx="4.8" ry="6.2" transform="rotate(12 13.6 0.42)"/><path d="M-0.70 -1.10 C0.38 -1.07 1.60 -0.33 2.60 0.60 C3.60 1.53 4.13 3.43 5.30 4.50 C6.47 5.57 8.42 6.05 9.60 7.00 C10.78 7.95 11.90 9.03 12.40 10.20 C12.90 11.37 12.87 12.83 12.60 14.00 C12.33 15.17 11.63 16.47 10.80 17.20 C9.97 17.93 8.75 18.40 7.60 18.40 C6.45 18.40 5.33 17.52 3.90 17.20 C2.47 16.88 0.65 16.55 -1.00 16.50 C-2.65 16.45 -4.52 16.65 -6.00 16.90 C-7.48 17.15 -8.75 18.17 -9.90 18.00 C-11.05 17.83 -12.25 16.93 -12.90 15.90 C-13.55 14.87 -13.92 13.18 -13.80 11.80 C-13.68 10.42 -13.00 8.68 -12.20 7.60 C-11.40 6.52 -9.98 5.97 -9.00 5.30 C-8.02 4.63 -7.15 4.42 -6.30 3.60 C-5.45 2.78 -4.83 1.18 -3.90 0.40 C-2.97 -0.38 -1.78 -1.13 -0.70 -1.10Z"/></g>
<g transform="translate(1531.7 387.1) scale(1.000)" fill="#F5AB27"><ellipse cx="-5.66" cy="-11.75" rx="4.95" ry="6.7" transform="rotate(-3 -5.66 -11.75)"/><ellipse cx="6.5" cy="-10.9" rx="5" ry="6.6" transform="rotate(5 6.5 -10.9)"/><ellipse cx="-13.66" cy="-1.7" rx="4.8" ry="6.4" transform="rotate(-8 -13.66 -1.7)"/><ellipse cx="13.6" cy="0.42" rx="4.8" ry="6.2" transform="rotate(12 13.6 0.42)"/><path d="M-0.70 -1.10 C0.38 -1.07 1.60 -0.33 2.60 0.60 C3.60 1.53 4.13 3.43 5.30 4.50 C6.47 5.57 8.42 6.05 9.60 7.00 C10.78 7.95 11.90 9.03 12.40 10.20 C12.90 11.37 12.87 12.83 12.60 14.00 C12.33 15.17 11.63 16.47 10.80 17.20 C9.97 17.93 8.75 18.40 7.60 18.40 C6.45 18.40 5.33 17.52 3.90 17.20 C2.47 16.88 0.65 16.55 -1.00 16.50 C-2.65 16.45 -4.52 16.65 -6.00 16.90 C-7.48 17.15 -8.75 18.17 -9.90 18.00 C-11.05 17.83 -12.25 16.93 -12.90 15.90 C-13.55 14.87 -13.92 13.18 -13.80 11.80 C-13.68 10.42 -13.00 8.68 -12.20 7.60 C-11.40 6.52 -9.98 5.97 -9.00 5.30 C-8.02 4.63 -7.15 4.42 -6.30 3.60 C-5.45 2.78 -4.83 1.18 -3.90 0.40 C-2.97 -0.38 -1.78 -1.13 -0.70 -1.10Z"/></g>
<text x="75.4" y="443.8" font-size="22.7" font-weight="bold" fill="#000" stroke="#000" stroke-width="0.4" word-spacing="0.5" textLength="531.1" lengthAdjust="spacingAndGlyphs">Fomentar la esterilización de los animales de compañía</text>
<g transform="translate(918.6 437.3) scale(1.000)" fill="#219634"><ellipse cx="-5.66" cy="-11.75" rx="4.95" ry="6.7" transform="rotate(-3 -5.66 -11.75)"/><ellipse cx="6.5" cy="-10.9" rx="5" ry="6.6" transform="rotate(5 6.5 -10.9)"/><ellipse cx="-13.66" cy="-1.7" rx="4.8" ry="6.4" transform="rotate(-8 -13.66 -1.7)"/><ellipse cx="13.6" cy="0.42" rx="4.8" ry="6.2" transform="rotate(12 13.6 0.42)"/><path d="M-0.70 -1.10 C0.38 -1.07 1.60 -0.33 2.60 0.60 C3.60 1.53 4.13 3.43 5.30 4.50 C6.47 5.57 8.42 6.05 9.60 7.00 C10.78 7.95 11.90 9.03 12.40 10.20 C12.90 11.37 12.87 12.83 12.60 14.00 C12.33 15.17 11.63 16.47 10.80 17.20 C9.97 17.93 8.75 18.40 7.60 18.40 C6.45 18.40 5.33 17.52 3.90 17.20 C2.47 16.88 0.65 16.55 -1.00 16.50 C-2.65 16.45 -4.52 16.65 -6.00 16.90 C-7.48 17.15 -8.75 18.17 -9.90 18.00 C-11.05 17.83 -12.25 16.93 -12.90 15.90 C-13.55 14.87 -13.92 13.18 -13.80 11.80 C-13.68 10.42 -13.00 8.68 -12.20 7.60 C-11.40 6.52 -9.98 5.97 -9.00 5.30 C-8.02 4.63 -7.15 4.42 -6.30 3.60 C-5.45 2.78 -4.83 1.18 -3.90 0.40 C-2.97 -0.38 -1.78 -1.13 -0.70 -1.10Z"/></g>
<g transform="translate(1124.4 437.3) scale(1.000)" fill="#219634"><ellipse cx="-5.66" cy="-11.75" rx="4.95" ry="6.7" transform="rotate(-3 -5.66 -11.75)"/><ellipse cx="6.5" cy="-10.9" rx="5" ry="6.6" transform="rotate(5 6.5 -10.9)"/><ellipse cx="-13.66" cy="-1.7" rx="4.8" ry="6.4" transform="rotate(-8 -13.66 -1.7)"/><ellipse cx="13.6" cy="0.42" rx="4.8" ry="6.2" transform="rotate(12 13.6 0.42)"/><path d="M-0.70 -1.10 C0.38 -1.07 1.60 -0.33 2.60 0.60 C3.60 1.53 4.13 3.43 5.30 4.50 C6.47 5.57 8.42 6.05 9.60 7.00 C10.78 7.95 11.90 9.03 12.40 10.20 C12.90 11.37 12.87 12.83 12.60 14.00 C12.33 15.17 11.63 16.47 10.80 17.20 C9.97 17.93 8.75 18.40 7.60 18.40 C6.45 18.40 5.33 17.52 3.90 17.20 C2.47 16.88 0.65 16.55 -1.00 16.50 C-2.65 16.45 -4.52 16.65 -6.00 16.90 C-7.48 17.15 -8.75 18.17 -9.90 18.00 C-11.05 17.83 -12.25 16.93 -12.90 15.90 C-13.55 14.87 -13.92 13.18 -13.80 11.80 C-13.68 10.42 -13.00 8.68 -12.20 7.60 C-11.40 6.52 -9.98 5.97 -9.00 5.30 C-8.02 4.63 -7.15 4.42 -6.30 3.60 C-5.45 2.78 -4.83 1.18 -3.90 0.40 C-2.97 -0.38 -1.78 -1.13 -0.70 -1.10Z"/></g>
<g transform="translate(1227.6 437.3) scale(1.000)" fill="#F5AB27"><ellipse cx="-5.66" cy="-11.75" rx="4.95" ry="6.7" transform="rotate(-3 -5.66 -11.75)"/><ellipse cx="6.5" cy="-10.9" rx="5" ry="6.6" transform="rotate(5 6.5 -10.9)"/><ellipse cx="-13.66" cy="-1.7" rx="4.8" ry="6.4" transform="rotate(-8 -13.66 -1.7)"/><ellipse cx="13.6" cy="0.42" rx="4.8" ry="6.2" transform="rotate(12 13.6 0.42)"/><path d="M-0.70 -1.10 C0.38 -1.07 1.60 -0.33 2.60 0.60 C3.60 1.53 4.13 3.43 5.30 4.50 C6.47 5.57 8.42 6.05 9.60 7.00 C10.78 7.95 11.90 9.03 12.40 10.20 C12.90 11.37 12.87 12.83 12.60 14.00 C12.33 15.17 11.63 16.47 10.80 17.20 C9.97 17.93 8.75 18.40 7.60 18.40 C6.45 18.40 5.33 17.52 3.90 17.20 C2.47 16.88 0.65 16.55 -1.00 16.50 C-2.65 16.45 -4.52 16.65 -6.00 16.90 C-7.48 17.15 -8.75 18.17 -9.90 18.00 C-11.05 17.83 -12.25 16.93 -12.90 15.90 C-13.55 14.87 -13.92 13.18 -13.80 11.80 C-13.68 10.42 -13.00 8.68 -12.20 7.60 C-11.40 6.52 -9.98 5.97 -9.00 5.30 C-8.02 4.63 -7.15 4.42 -6.30 3.60 C-5.45 2.78 -4.83 1.18 -3.90 0.40 C-2.97 -0.38 -1.78 -1.13 -0.70 -1.10Z"/></g>
<text x="75.4" y="493.8" font-size="22.7" font-weight="bold" fill="#000" stroke="#000" stroke-width="0.4" word-spacing="0.5" textLength="523.1" lengthAdjust="spacingAndGlyphs">Prohibir los correbous y/o revisar la ley que los regula</text>
<g transform="translate(918.6 487.5) scale(1.000)" fill="#219634"><ellipse cx="-5.66" cy="-11.75" rx="4.95" ry="6.7" transform="rotate(-3 -5.66 -11.75)"/><ellipse cx="6.5" cy="-10.9" rx="5" ry="6.6" transform="rotate(5 6.5 -10.9)"/><ellipse cx="-13.66" cy="-1.7" rx="4.8" ry="6.4" transform="rotate(-8 -13.66 -1.7)"/><ellipse cx="13.6" cy="0.42" rx="4.8" ry="6.2" transform="rotate(12 13.6 0.42)"/><path d="M-0.70 -1.10 C0.38 -1.07 1.60 -0.33 2.60 0.60 C3.60 1.53 4.13 3.43 5.30 4.50 C6.47 5.57 8.42 6.05 9.60 7.00 C10.78 7.95 11.90 9.03 12.40 10.20 C12.90 11.37 12.87 12.83 12.60 14.00 C12.33 15.17 11.63 16.47 10.80 17.20 C9.97 17.93 8.75 18.40 7.60 18.40 C6.45 18.40 5.33 17.52 3.90 17.20 C2.47 16.88 0.65 16.55 -1.00 16.50 C-2.65 16.45 -4.52 16.65 -6.00 16.90 C-7.48 17.15 -8.75 18.17 -9.90 18.00 C-11.05 17.83 -12.25 16.93 -12.90 15.90 C-13.55 14.87 -13.92 13.18 -13.80 11.80 C-13.68 10.42 -13.00 8.68 -12.20 7.60 C-11.40 6.52 -9.98 5.97 -9.00 5.30 C-8.02 4.63 -7.15 4.42 -6.30 3.60 C-5.45 2.78 -4.83 1.18 -3.90 0.40 C-2.97 -0.38 -1.78 -1.13 -0.70 -1.10Z"/></g>
<g transform="translate(1021.5 487.5) scale(1.000)" fill="#219634"><ellipse cx="-5.66" cy="-11.75" rx="4.95" ry="6.7" transform="rotate(-3 -5.66 -11.75)"/><ellipse cx="6.5" cy="-10.9" rx="5" ry="6.6" transform="rotate(5 6.5 -10.9)"/><ellipse cx="-13.66" cy="-1.7" rx="4.8" ry="6.4" transform="rotate(-8 -13.66 -1.7)"/><ellipse cx="13.6" cy="0.42" rx="4.8" ry="6.2" transform="rotate(12 13.6 0.42)"/><path d="M-0.70 -1.10 C0.38 -1.07 1.60 -0.33 2.60 0.60 C3.60 1.53 4.13 3.43 5.30 4.50 C6.47 5.57 8.42 6.05 9.60 7.00 C10.78 7.95 11.90 9.03 12.40 10.20 C12.90 11.37 12.87 12.83 12.60 14.00 C12.33 15.17 11.63 16.47 10.80 17.20 C9.97 17.93 8.75 18.40 7.60 18.40 C6.45 18.40 5.33 17.52 3.90 17.20 C2.47 16.88 0.65 16.55 -1.00 16.50 C-2.65 16.45 -4.52 16.65 -6.00 16.90 C-7.48 17.15 -8.75 18.17 -9.90 18.00 C-11.05 17.83 -12.25 16.93 -12.90 15.90 C-13.55 14.87 -13.92 13.18 -13.80 11.80 C-13.68 10.42 -13.00 8.68 -12.20 7.60 C-11.40 6.52 -9.98 5.97 -9.00 5.30 C-8.02 4.63 -7.15 4.42 -6.30 3.60 C-5.45 2.78 -4.83 1.18 -3.90 0.40 C-2.97 -0.38 -1.78 -1.13 -0.70 -1.10Z"/></g>
<g transform="translate(1428.5 487.5) scale(1.000)" fill="#F5AB27"><ellipse cx="-5.66" cy="-11.75" rx="4.95" ry="6.7" transform="rotate(-3 -5.66 -11.75)"/><ellipse cx="6.5" cy="-10.9" rx="5" ry="6.6" transform="rotate(5 6.5 -10.9)"/><ellipse cx="-13.66" cy="-1.7" rx="4.8" ry="6.4" transform="rotate(-8 -13.66 -1.7)"/><ellipse cx="13.6" cy="0.42" rx="4.8" ry="6.2" transform="rotate(12 13.6 0.42)"/><path d="M-0.70 -1.10 C0.38 -1.07 1.60 -0.33 2.60 0.60 C3.60 1.53 4.13 3.43 5.30 4.50 C6.47 5.57 8.42 6.05 9.60 7.00 C10.78 7.95 11.90 9.03 12.40 10.20 C12.90 11.37 12.87 12.83 12.60 14.00 C12.33 15.17 11.63 16.47 10.80 17.20 C9.97 17.93 8.75 18.40 7.60 18.40 C6.45 18.40 5.33 17.52 3.90 17.20 C2.47 16.88 0.65 16.55 -1.00 16.50 C-2.65 16.45 -4.52 16.65 -6.00 16.90 C-7.48 17.15 -8.75 18.17 -9.90 18.00 C-11.05 17.83 -12.25 16.93 -12.90 15.90 C-13.55 14.87 -13.92 13.18 -13.80 11.80 C-13.68 10.42 -13.00 8.68 -12.20 7.60 C-11.40 6.52 -9.98 5.97 -9.00 5.30 C-8.02 4.63 -7.15 4.42 -6.30 3.60 C-5.45 2.78 -4.83 1.18 -3.90 0.40 C-2.97 -0.38 -1.78 -1.13 -0.70 -1.10Z"/></g>
<text x="75.4" y="543.8" font-size="22.7" font-weight="bold" fill="#000" stroke="#000" stroke-width="0.4" word-spacing="0.5" textLength="588.9" lengthAdjust="spacingAndGlyphs">Fin de la cría y espectáculos de delfines en parques acuáticos</text>
<g transform="translate(918.6 537.6) scale(1.000)" fill="#219634"><ellipse cx="-5.66" cy="-11.75" rx="4.95" ry="6.7" transform="rotate(-3 -5.66 -11.75)"/><ellipse cx="6.5" cy="-10.9" rx="5" ry="6.6" transform="rotate(5 6.5 -10.9)"/><ellipse cx="-13.66" cy="-1.7" rx="4.8" ry="6.4" transform="rotate(-8 -13.66 -1.7)"/><ellipse cx="13.6" cy="0.42" rx="4.8" ry="6.2" transform="rotate(12 13.6 0.42)"/><path d="M-0.70 -1.10 C0.38 -1.07 1.60 -0.33 2.60 0.60 C3.60 1.53 4.13 3.43 5.30 4.50 C6.47 5.57 8.42 6.05 9.60 7.00 C10.78 7.95 11.90 9.03 12.40 10.20 C12.90 11.37 12.87 12.83 12.60 14.00 C12.33 15.17 11.63 16.47 10.80 17.20 C9.97 17.93 8.75 18.40 7.60 18.40 C6.45 18.40 5.33 17.52 3.90 17.20 C2.47 16.88 0.65 16.55 -1.00 16.50 C-2.65 16.45 -4.52 16.65 -6.00 16.90 C-7.48 17.15 -8.75 18.17 -9.90 18.00 C-11.05 17.83 -12.25 16.93 -12.90 15.90 C-13.55 14.87 -13.92 13.18 -13.80 11.80 C-13.68 10.42 -13.00 8.68 -12.20 7.60 C-11.40 6.52 -9.98 5.97 -9.00 5.30 C-8.02 4.63 -7.15 4.42 -6.30 3.60 C-5.45 2.78 -4.83 1.18 -3.90 0.40 C-2.97 -0.38 -1.78 -1.13 -0.70 -1.10Z"/></g>
<g transform="translate(1021.5 537.6) scale(1.000)" fill="#219634"><ellipse cx="-5.66" cy="-11.75" rx="4.95" ry="6.7" transform="rotate(-3 -5.66 -11.75)"/><ellipse cx="6.5" cy="-10.9" rx="5" ry="6.6" transform="rotate(5 6.5 -10.9)"/><ellipse cx="-13.66" cy="-1.7" rx="4.8" ry="6.4" transform="rotate(-8 -13.66 -1.7)"/><ellipse cx="13.6" cy="0.42" rx="4.8" ry="6.2" transform="rotate(12 13.6 0.42)"/><path d="M-0.70 -1.10 C0.38 -1.07 1.60 -0.33 2.60 0.60 C3.60 1.53 4.13 3.43 5.30 4.50 C6.47 5.57 8.42 6.05 9.60 7.00 C10.78 7.95 11.90 9.03 12.40 10.20 C12.90 11.37 12.87 12.83 12.60 14.00 C12.33 15.17 11.63 16.47 10.80 17.20 C9.97 17.93 8.75 18.40 7.60 18.40 C6.45 18.40 5.33 17.52 3.90 17.20 C2.47 16.88 0.65 16.55 -1.00 16.50 C-2.65 16.45 -4.52 16.65 -6.00 16.90 C-7.48 17.15 -8.75 18.17 -9.90 18.00 C-11.05 17.83 -12.25 16.93 -12.90 15.90 C-13.55 14.87 -13.92 13.18 -13.80 11.80 C-13.68 10.42 -13.00 8.68 -12.20 7.60 C-11.40 6.52 -9.98 5.97 -9.00 5.30 C-8.02 4.63 -7.15 4.42 -6.30 3.60 C-5.45 2.78 -4.83 1.18 -3.90 0.40 C-2.97 -0.38 -1.78 -1.13 -0.70 -1.10Z"/></g>
<g transform="translate(1227.6 537.6) scale(1.000)" fill="#219634"><ellipse cx="-5.66" cy="-11.75" rx="4.95" ry="6.7" transform="rotate(-3 -5.66 -11.75)"/><ellipse cx="6.5" cy="-10.9" rx="5" ry="6.6" transform="rotate(5 6.5 -10.9)"/><ellipse cx="-13.66" cy="-1.7" rx="4.8" ry="6.4" transform="rotate(-8 -13.66 -1.7)"/><ellipse cx="13.6" cy="0.42" rx="4.8" ry="6.2" transform="rotate(12 13.6 0.42)"/><path d="M-0.70 -1.10 C0.38 -1.07 1.60 -0.33 2.60 0.60 C3.60 1.53 4.13 3.43 5.30 4.50 C6.47 5.57 8.42 6.05 9.60 7.00 C10.78 7.95 11.90 9.03 12.40 10.20 C12.90 11.37 12.87 12.83 12.60 14.00 C12.33 15.17 11.63 16.47 10.80 17.20 C9.97 17.93 8.75 18.40 7.60 18.40 C6.45 18.40 5.33 17.52 3.90 17.20 C2.47 16.88 0.65 16.55 -1.00 16.50 C-2.65 16.45 -4.52 16.65 -6.00 16.90 C-7.48 17.15 -8.75 18.17 -9.90 18.00 C-11.05 17.83 -12.25 16.93 -12.90 15.90 C-13.55 14.87 -13.92 13.18 -13.80 11.80 C-13.68 10.42 -13.00 8.68 -12.20 7.60 C-11.40 6.52 -9.98 5.97 -9.00 5.30 C-8.02 4.63 -7.15 4.42 -6.30 3.60 C-5.45 2.78 -4.83 1.18 -3.90 0.40 C-2.97 -0.38 -1.78 -1.13 -0.70 -1.10Z"/></g>
<text x="75.4" y="593.8" font-size="22.7" font-weight="bold" fill="#000" stroke="#000" stroke-width="0.4" word-spacing="0.5" textLength="297.8" lengthAdjust="spacingAndGlyphs">Reconversión de los zoológicos</text>
<g transform="translate(918.6 587.8) scale(1.000)" fill="#219634"><ellipse cx="-5.66" cy="-11.75" rx="4.95" ry="6.7" transform="rotate(-3 -5.66 -11.75)"/><ellipse cx="6.5" cy="-10.9" rx="5" ry="6.6" transform="rotate(5 6.5 -10.9)"/><ellipse cx="-13.66" cy="-1.7" rx="4.8" ry="6.4" transform="rotate(-8 -13.66 -1.7)"/><ellipse cx="13.6" cy="0.42" rx="4.8" ry="6.2" transform="rotate(12 13.6 0.42)"/><path d="M-0.70 -1.10 C0.38 -1.07 1.60 -0.33 2.60 0.60 C3.60 1.53 4.13 3.43 5.30 4.50 C6.47 5.57 8.42 6.05 9.60 7.00 C10.78 7.95 11.90 9.03 12.40 10.20 C12.90 11.37 12.87 12.83 12.60 14.00 C12.33 15.17 11.63 16.47 10.80 17.20 C9.97 17.93 8.75 18.40 7.60 18.40 C6.45 18.40 5.33 17.52 3.90 17.20 C2.47 16.88 0.65 16.55 -1.00 16.50 C-2.65 16.45 -4.52 16.65 -6.00 16.90 C-7.48 17.15 -8.75 18.17 -9.90 18.00 C-11.05 17.83 -12.25 16.93 -12.90 15.90 C-13.55 14.87 -13.92 13.18 -13.80 11.80 C-13.68 10.42 -13.00 8.68 -12.20 7.60 C-11.40 6.52 -9.98 5.97 -9.00 5.30 C-8.02 4.63 -7.15 4.42 -6.30 3.60 C-5.45 2.78 -4.83 1.18 -3.90 0.40 C-2.97 -0.38 -1.78 -1.13 -0.70 -1.10Z"/></g>
<g transform="translate(1021.5 587.8) scale(1.000)" fill="#219634"><ellipse cx="-5.66" cy="-11.75" rx="4.95" ry="6.7" transform="rotate(-3 -5.66 -11.75)"/><ellipse cx="6.5" cy="-10.9" rx="5" ry="6.6" transform="rotate(5 6.5 -10.9)"/><ellipse cx="-13.66" cy="-1.7" rx="4.8" ry="6.4" transform="rotate(-8 -13.66 -1.7)"/><ellipse cx="13.6" cy="0.42" rx="4.8" ry="6.2" transform="rotate(12 13.6 0.42)"/><path d="M-0.70 -1.10 C0.38 -1.07 1.60 -0.33 2.60 0.60 C3.60 1.53 4.13 3.43 5.30 4.50 C6.47 5.57 8.42 6.05 9.60 7.00 C10.78 7.95 11.90 9.03 12.40 10.20 C12.90 11.37 12.87 12.83 12.60 14.00 C12.33 15.17 11.63 16.47 10.80 17.20 C9.97 17.93 8.75 18.40 7.60 18.40 C6.45 18.40 5.33 17.52 3.90 17.20 C2.47 16.88 0.65 16.55 -1.00 16.50 C-2.65 16.45 -4.52 16.65 -6.00 16.90 C-7.48 17.15 -8.75 18.17 -9.90 18.00 C-11.05 17.83 -12.25 16.93 -12.90 15.90 C-13.55 14.87 -13.92 13.18 -13.80 11.80 C-13.68 10.42 -13.00 8.68 -12.20 7.60 C-11.40 6.52 -9.98 5.97 -9.00 5.30 C-8.02 4.63 -7.15 4.42 -6.30 3.60 C-5.45 2.78 -4.83 1.18 -3.90 0.40 C-2.97 -0.38 -1.78 -1.13 -0.70 -1.10Z"/></g>
<text x="75.4" y="643.8" font-size="22.7" font-weight="bold" fill="#000" stroke="#000" stroke-width="0.4" word-spacing="0.5" textLength="251.9" lengthAdjust="spacingAndGlyphs">Prohibir la caza recreativa</text>
<g transform="translate(918.6 637.9) scale(1.000)" fill="#219634"><ellipse cx="-5.66" cy="-11.75" rx="4.95" ry="6.7" transform="rotate(-3 -5.66 -11.75)"/><ellipse cx="6.5" cy="-10.9" rx="5" ry="6.6" transform="rotate(5 6.5 -10.9)"/><ellipse cx="-13.66" cy="-1.7" rx="4.8" ry="6.4" transform="rotate(-8 -13.66 -1.7)"/><ellipse cx="13.6" cy="0.42" rx="4.8" ry="6.2" transform="rotate(12 13.6 0.42)"/><path d="M-0.70 -1.10 C0.38 -1.07 1.60 -0.33 2.60 0.60 C3.60 1.53 4.13 3.43 5.30 4.50 C6.47 5.57 8.42 6.05 9.60 7.00 C10.78 7.95 11.90 9.03 12.40 10.20 C12.90 11.37 12.87 12.83 12.60 14.00 C12.33 15.17 11.63 16.47 10.80 17.20 C9.97 17.93 8.75 18.40 7.60 18.40 C6.45 18.40 5.33 17.52 3.90 17.20 C2.47 16.88 0.65 16.55 -1.00 16.50 C-2.65 16.45 -4.52 16.65 -6.00 16.90 C-7.48 17.15 -8.75 18.17 -9.90 18.00 C-11.05 17.83 -12.25 16.93 -12.90 15.90 C-13.55 14.87 -13.92 13.18 -13.80 11.80 C-13.68 10.42 -13.00 8.68 -12.20 7.60 C-11.40 6.52 -9.98 5.97 -9.00 5.30 C-8.02 4.63 -7.15 4.42 -6.30 3.60 C-5.45 2.78 -4.83 1.18 -3.90 0.40 C-2.97 -0.38 -1.78 -1.13 -0.70 -1.10Z"/></g>
<g transform="translate(1021.5 637.9) scale(1.000)" fill="#219634"><ellipse cx="-5.66" cy="-11.75" rx="4.95" ry="6.7" transform="rotate(-3 -5.66 -11.75)"/><ellipse cx="6.5" cy="-10.9" rx="5" ry="6.6" transform="rotate(5 6.5 -10.9)"/><ellipse cx="-13.66" cy="-1.7" rx="4.8" ry="6.4" transform="rotate(-8 -13.66 -1.7)"/><ellipse cx="13.6" cy="0.42" rx="4.8" ry="6.2" transform="rotate(12 13.6 0.42)"/><path d="M-0.70 -1.10 C0.38 -1.07 1.60 -0.33 2.60 0.60 C3.60 1.53 4.13 3.43 5.30 4.50 C6.47 5.57 8.42 6.05 9.60 7.00 C10.78 7.95 11.90 9.03 12.40 10.20 C12.90 11.37 12.87 12.83 12.60 14.00 C12.33 15.17 11.63 16.47 10.80 17.20 C9.97 17.93 8.75 18.40 7.60 18.40 C6.45 18.40 5.33 17.52 3.90 17.20 C2.47 16.88 0.65 16.55 -1.00 16.50 C-2.65 16.45 -4.52 16.65 -6.00 16.90 C-7.48 17.15 -8.75 18.17 -9.90 18.00 C-11.05 17.83 -12.25 16.93 -12.90 15.90 C-13.55 14.87 -13.92 13.18 -13.80 11.80 C-13.68 10.42 -13.00 8.68 -12.20 7.60 C-11.40 6.52 -9.98 5.97 -9.00 5.30 C-8.02 4.63 -7.15 4.42 -6.30 3.60 C-5.45 2.78 -4.83 1.18 -3.90 0.40 C-2.97 -0.38 -1.78 -1.13 -0.70 -1.10Z"/></g>
<g transform="translate(1428.5 637.9) scale(1.000)" fill="#D0202F"><ellipse cx="-5.66" cy="-11.75" rx="4.95" ry="6.7" transform="rotate(-3 -5.66 -11.75)"/><ellipse cx="6.5" cy="-10.9" rx="5" ry="6.6" transform="rotate(5 6.5 -10.9)"/><ellipse cx="-13.66" cy="-1.7" rx="4.8" ry="6.4" transform="rotate(-8 -13.66 -1.7)"/><ellipse cx="13.6" cy="0.42" rx="4.8" ry="6.2" transform="rotate(12 13.6 0.42)"/><path d="M-0.70 -1.10 C0.38 -1.07 1.60 -0.33 2.60 0.60 C3.60 1.53 4.13 3.43 5.30 4.50 C6.47 5.57 8.42 6.05 9.60 7.00 C10.78 7.95 11.90 9.03 12.40 10.20 C12.90 11.37 12.87 12.83 12.60 14.00 C12.33 15.17 11.63 16.47 10.80 17.20 C9.97 17.93 8.75 18.40 7.60 18.40 C6.45 18.40 5.33 17.52 3.90 17.20 C2.47 16.88 0.65 16.55 -1.00 16.50 C-2.65 16.45 -4.52 16.65 -6.00 16.90 C-7.48 17.15 -8.75 18.17 -9.90 18.00 C-11.05 17.83 -12.25 16.93 -12.90 15.90 C-13.55 14.87 -13.92 13.18 -13.80 11.80 C-13.68 10.42 -13.00 8.68 -12.20 7.60 C-11.40 6.52 -9.98 5.97 -9.00 5.30 C-8.02 4.63 -7.15 4.42 -6.30 3.60 C-5.45 2.78 -4.83 1.18 -3.90 0.40 C-2.97 -0.38 -1.78 -1.13 -0.70 -1.10Z"/></g>
<text x="75.4" y="693.8" font-size="22.7" font-weight="bold" fill="#000" stroke="#000" stroke-width="0.4" word-spacing="0.5" textLength="668.6" lengthAdjust="spacingAndGlyphs">Búsqueda de métodos alternativos al sacrificio de animales silvestres</text>
<g transform="translate(918.6 688.0) scale(1.000)" fill="#219634"><ellipse cx="-5.66" cy="-11.75" rx="4.95" ry="6.7" transform="rotate(-3 -5.66 -11.75)"/><ellipse cx="6.5" cy="-10.9" rx="5" ry="6.6" transform="rotate(5 6.5 -10.9)"/><ellipse cx="-13.66" cy="-1.7" rx="4.8" ry="6.4" transform="rotate(-8 -13.66 -1.7)"/><ellipse cx="13.6" cy="0.42" rx="4.8" ry="6.2" transform="rotate(12 13.6 0.42)"/><path d="M-0.70 -1.10 C0.38 -1.07 1.60 -0.33 2.60 0.60 C3.60 1.53 4.13 3.43 5.30 4.50 C6.47 5.57 8.42 6.05 9.60 7.00 C10.78 7.95 11.90 9.03 12.40 10.20 C12.90 11.37 12.87 12.83 12.60 14.00 C12.33 15.17 11.63 16.47 10.80 17.20 C9.97 17.93 8.75 18.40 7.60 18.40 C6.45 18.40 5.33 17.52 3.90 17.20 C2.47 16.88 0.65 16.55 -1.00 16.50 C-2.65 16.45 -4.52 16.65 -6.00 16.90 C-7.48 17.15 -8.75 18.17 -9.90 18.00 C-11.05 17.83 -12.25 16.93 -12.90 15.90 C-13.55 14.87 -13.92 13.18 -13.80 11.80 C-13.68 10.42 -13.00 8.68 -12.20 7.60 C-11.40 6.52 -9.98 5.97 -9.00 5.30 C-8.02 4.63 -7.15 4.42 -6.30 3.60 C-5.45 2.78 -4.83 1.18 -3.90 0.40 C-2.97 -0.38 -1.78 -1.13 -0.70 -1.10Z"/></g>
<g transform="translate(1021.5 688.0) scale(1.000)" fill="#219634"><ellipse cx="-5.66" cy="-11.75" rx="4.95" ry="6.7" transform="rotate(-3 -5.66 -11.75)"/><ellipse cx="6.5" cy="-10.9" rx="5" ry="6.6" transform="rotate(5 6.5 -10.9)"/><ellipse cx="-13.66" cy="-1.7" rx="4.8" ry="6.4" transform="rotate(-8 -13.66 -1.7)"/><ellipse cx="13.6" cy="0.42" rx="4.8" ry="6.2" transform="rotate(12 13.6 0.42)"/><path d="M-0.70 -1.10 C0.38 -1.07 1.60 -0.33 2.60 0.60 C3.60 1.53 4.13 3.43 5.30 4.50 C6.47 5.57 8.42 6.05 9.60 7.00 C10.78 7.95 11.90 9.03 12.40 10.20 C12.90 11.37 12.87 12.83 12.60 14.00 C12.33 15.17 11.63 16.47 10.80 17.20 C9.97 17.93 8.75 18.40 7.60 18.40 C6.45 18.40 5.33 17.52 3.90 17.20 C2.47 16.88 0.65 16.55 -1.00 16.50 C-2.65 16.45 -4.52 16.65 -6.00 16.90 C-7.48 17.15 -8.75 18.17 -9.90 18.00 C-11.05 17.83 -12.25 16.93 -12.90 15.90 C-13.55 14.87 -13.92 13.18 -13.80 11.80 C-13.68 10.42 -13.00 8.68 -12.20 7.60 C-11.40 6.52 -9.98 5.97 -9.00 5.30 C-8.02 4.63 -7.15 4.42 -6.30 3.60 C-5.45 2.78 -4.83 1.18 -3.90 0.40 C-2.97 -0.38 -1.78 -1.13 -0.70 -1.10Z"/></g>
<g transform="translate(1428.5 688.0) scale(1.000)" fill="#F5AB27"><ellipse cx="-5.66" cy="-11.75" rx="4.95" ry="6.7" transform="rotate(-3 -5.66 -11.75)"/><ellipse cx="6.5" cy="-10.9" rx="5" ry="6.6" transform="rotate(5 6.5 -10.9)"/><ellipse cx="-13.66" cy="-1.7" rx="4.8" ry="6.4" transform="rotate(-8 -13.66 -1.7)"/><ellipse cx="13.6" cy="0.42" rx="4.8" ry="6.2" transform="rotate(12 13.6 0.42)"/><path d="M-0.70 -1.10 C0.38 -1.07 1.60 -0.33 2.60 0.60 C3.60 1.53 4.13 3.43 5.30 4.50 C6.47 5.57 8.42 6.05 9.60 7.00 C10.78 7.95 11.90 9.03 12.40 10.20 C12.90 11.37 12.87 12.83 12.60 14.00 C12.33 15.17 11.63 16.47 10.80 17.20 C9.97 17.93 8.75 18.40 7.60 18.40 C6.45 18.40 5.33 17.52 3.90 17.20 C2.47 16.88 0.65 16.55 -1.00 16.50 C-2.65 16.45 -4.52 16.65 -6.00 16.90 C-7.48 17.15 -8.75 18.17 -9.90 18.00 C-11.05 17.83 -12.25 16.93 -12.90 15.90 C-13.55 14.87 -13.92 13.18 -13.80 11.80 C-13.68 10.42 -13.00 8.68 -12.20 7.60 C-11.40 6.52 -9.98 5.97 -9.00 5.30 C-8.02 4.63 -7.15 4.42 -6.30 3.60 C-5.45 2.78 -4.83 1.18 -3.90 0.40 C-2.97 -0.38 -1.78 -1.13 -0.70 -1.10Z"/></g>
<text x="75.4" y="743.8" font-size="22.7" font-weight="bold" fill="#000" stroke="#000" stroke-width="0.4" word-spacing="0.5" textLength="667.8" lengthAdjust="spacingAndGlyphs">Crear una base de datos de personas condenadas por maltrato animal</text>
<g transform="translate(1021.5 738.2) scale(1.000)" fill="#219634"><ellipse cx="-5.66" cy="-11.75" rx="4.95" ry="6.7" transform="rotate(-3 -5.66 -11.75)"/><ellipse cx="6.5" cy="-10.9" rx="5" ry="6.6" transform="rotate(5 6.5 -10.9)"/><ellipse cx="-13.66" cy="-1.7" rx="4.8" ry="6.4" transform="rotate(-8 -13.66 -1.7)"/><ellipse cx="13.6" cy="0.42" rx="4.8" ry="6.2" transform="rotate(12 13.6 0.42)"/><path d="M-0.70 -1.10 C0.38 -1.07 1.60 -0.33 2.60 0.60 C3.60 1.53 4.13 3.43 5.30 4.50 C6.47 5.57 8.42 6.05 9.60 7.00 C10.78 7.95 11.90 9.03 12.40 10.20 C12.90 11.37 12.87 12.83 12.60 14.00 C12.33 15.17 11.63 16.47 10.80 17.20 C9.97 17.93 8.75 18.40 7.60 18.40 C6.45 18.40 5.33 17.52 3.90 17.20 C2.47 16.88 0.65 16.55 -1.00 16.50 C-2.65 16.45 -4.52 16.65 -6.00 16.90 C-7.48 17.15 -8.75 18.17 -9.90 18.00 C-11.05 17.83 -12.25 16.93 -12.90 15.90 C-13.55 14.87 -13.92 13.18 -13.80 11.80 C-13.68 10.42 -13.00 8.68 -12.20 7.60 C-11.40 6.52 -9.98 5.97 -9.00 5.30 C-8.02 4.63 -7.15 4.42 -6.30 3.60 C-5.45 2.78 -4.83 1.18 -3.90 0.40 C-2.97 -0.38 -1.78 -1.13 -0.70 -1.10Z"/></g>
<g transform="translate(1328.8 738.2) scale(1.000)" fill="#219634"><ellipse cx="-5.66" cy="-11.75" rx="4.95" ry="6.7" transform="rotate(-3 -5.66 -11.75)"/><ellipse cx="6.5" cy="-10.9" rx="5" ry="6.6" transform="rotate(5 6.5 -10.9)"/><ellipse cx="-13.66" cy="-1.7" rx="4.8" ry="6.4" transform="rotate(-8 -13.66 -1.7)"/><ellipse cx="13.6" cy="0.42" rx="4.8" ry="6.2" transform="rotate(12 13.6 0.42)"/><path d="M-0.70 -1.10 C0.38 -1.07 1.60 -0.33 2.60 0.60 C3.60 1.53 4.13 3.43 5.30 4.50 C6.47 5.57 8.42 6.05 9.60 7.00 C10.78 7.95 11.90 9.03 12.40 10.20 C12.90 11.37 12.87 12.83 12.60 14.00 C12.33 15.17 11.63 16.47 10.80 17.20 C9.97 17.93 8.75 18.40 7.60 18.40 C6.45 18.40 5.33 17.52 3.90 17.20 C2.47 16.88 0.65 16.55 -1.00 16.50 C-2.65 16.45 -4.52 16.65 -6.00 16.90 C-7.48 17.15 -8.75 18.17 -9.90 18.00 C-11.05 17.83 -12.25 16.93 -12.90 15.90 C-13.55 14.87 -13.92 13.18 -13.80 11.80 C-13.68 10.42 -13.00 8.68 -12.20 7.60 C-11.40 6.52 -9.98 5.97 -9.00 5.30 C-8.02 4.63 -7.15 4.42 -6.30 3.60 C-5.45 2.78 -4.83 1.18 -3.90 0.40 C-2.97 -0.38 -1.78 -1.13 -0.70 -1.10Z"/></g>
<text x="75.4" y="793.8" font-size="22.7" font-weight="bold" fill="#000" stroke="#000" stroke-width="0.4" word-spacing="0.5" textLength="488.9" lengthAdjust="spacingAndGlyphs">Relaciona la emergencia climática con la ganadería</text>
<g transform="translate(918.6 788.3) scale(1.000)" fill="#219634"><ellipse cx="-5.66" cy="-11.75" rx="4.95" ry="6.7" transform="rotate(-3 -5.66 -11.75)"/><ellipse cx="6.5" cy="-10.9" rx="5" ry="6.6" transform="rotate(5 6.5 -10.9)"/><ellipse cx="-13.66" cy="-1.7" rx="4.8" ry="6.4" transform="rotate(-8 -13.66 -1.7)"/><ellipse cx="13.6" cy="0.42" rx="4.8" ry="6.2" transform="rotate(12 13.6 0.42)"/><path d="M-0.70 -1.10 C0.38 -1.07 1.60 -0.33 2.60 0.60 C3.60 1.53 4.13 3.43 5.30 4.50 C6.47 5.57 8.42 6.05 9.60 7.00 C10.78 7.95 11.90 9.03 12.40 10.20 C12.90 11.37 12.87 12.83 12.60 14.00 C12.33 15.17 11.63 16.47 10.80 17.20 C9.97 17.93 8.75 18.40 7.60 18.40 C6.45 18.40 5.33 17.52 3.90 17.20 C2.47 16.88 0.65 16.55 -1.00 16.50 C-2.65 16.45 -4.52 16.65 -6.00 16.90 C-7.48 17.15 -8.75 18.17 -9.90 18.00 C-11.05 17.83 -12.25 16.93 -12.90 15.90 C-13.55 14.87 -13.92 13.18 -13.80 11.80 C-13.68 10.42 -13.00 8.68 -12.20 7.60 C-11.40 6.52 -9.98 5.97 -9.00 5.30 C-8.02 4.63 -7.15 4.42 -6.30 3.60 C-5.45 2.78 -4.83 1.18 -3.90 0.40 C-2.97 -0.38 -1.78 -1.13 -0.70 -1.10Z"/></g>
<g transform="translate(1124.4 788.3) scale(1.000)" fill="#F5AB27"><ellipse cx="-5.66" cy="-11.75" rx="4.95" ry="6.7" transform="rotate(-3 -5.66 -11.75)"/><ellipse cx="6.5" cy="-10.9" rx="5" ry="6.6" transform="rotate(5 6.5 -10.9)"/><ellipse cx="-13.66" cy="-1.7" rx="4.8" ry="6.4" transform="rotate(-8 -13.66 -1.7)"/><ellipse cx="13.6" cy="0.42" rx="4.8" ry="6.2" transform="rotate(12 13.6 0.42)"/><path d="M-0.70 -1.10 C0.38 -1.07 1.60 -0.33 2.60 0.60 C3.60 1.53 4.13 3.43 5.30 4.50 C6.47 5.57 8.42 6.05 9.60 7.00 C10.78 7.95 11.90 9.03 12.40 10.20 C12.90 11.37 12.87 12.83 12.60 14.00 C12.33 15.17 11.63 16.47 10.80 17.20 C9.97 17.93 8.75 18.40 7.60 18.40 C6.45 18.40 5.33 17.52 3.90 17.20 C2.47 16.88 0.65 16.55 -1.00 16.50 C-2.65 16.45 -4.52 16.65 -6.00 16.90 C-7.48 17.15 -8.75 18.17 -9.90 18.00 C-11.05 17.83 -12.25 16.93 -12.90 15.90 C-13.55 14.87 -13.92 13.18 -13.80 11.80 C-13.68 10.42 -13.00 8.68 -12.20 7.60 C-11.40 6.52 -9.98 5.97 -9.00 5.30 C-8.02 4.63 -7.15 4.42 -6.30 3.60 C-5.45 2.78 -4.83 1.18 -3.90 0.40 C-2.97 -0.38 -1.78 -1.13 -0.70 -1.10Z"/></g>
<g transform="translate(1428.5 788.3) scale(1.000)" fill="#F5DDB0"><ellipse cx="-5.66" cy="-11.75" rx="4.95" ry="6.7" transform="rotate(-3 -5.66 -11.75)"/><ellipse cx="6.5" cy="-10.9" rx="5" ry="6.6" transform="rotate(5 6.5 -10.9)"/><ellipse cx="-13.66" cy="-1.7" rx="4.8" ry="6.4" transform="rotate(-8 -13.66 -1.7)"/><ellipse cx="13.6" cy="0.42" rx="4.8" ry="6.2" transform="rotate(12 13.6 0.42)"/><path d="M-0.70 -1.10 C0.38 -1.07 1.60 -0.33 2.60 0.60 C3.60 1.53 4.13 3.43 5.30 4.50 C6.47 5.57 8.42 6.05 9.60 7.00 C10.78 7.95 11.90 9.03 12.40 10.20 C12.90 11.37 12.87 12.83 12.60 14.00 C12.33 15.17 11.63 16.47 10.80 17.20 C9.97 17.93 8.75 18.40 7.60 18.40 C6.45 18.40 5.33 17.52 3.90 17.20 C2.47 16.88 0.65 16.55 -1.00 16.50 C-2.65 16.45 -4.52 16.65 -6.00 16.90 C-7.48 17.15 -8.75 18.17 -9.90 18.00 C-11.05 17.83 -12.25 16.93 -12.90 15.90 C-13.55 14.87 -13.92 13.18 -13.80 11.80 C-13.68 10.42 -13.00 8.68 -12.20 7.60 C-11.40 6.52 -9.98 5.97 -9.00 5.30 C-8.02 4.63 -7.15 4.42 -6.30 3.60 C-5.45 2.78 -4.83 1.18 -3.90 0.40 C-2.97 -0.38 -1.78 -1.13 -0.70 -1.10Z"/></g>
<text x="75.4" y="843.8" font-size="22.7" font-weight="bold" fill="#000" stroke="#000" stroke-width="0.4" word-spacing="0.5" textLength="443.0" lengthAdjust="spacingAndGlyphs">Mejorar el bienestar de los animales de granja</text>
<g transform="translate(918.6 838.5) scale(1.000)" fill="#219634"><ellipse cx="-5.66" cy="-11.75" rx="4.95" ry="6.7" transform="rotate(-3 -5.66 -11.75)"/><ellipse cx="6.5" cy="-10.9" rx="5" ry="6.6" transform="rotate(5 6.5 -10.9)"/><ellipse cx="-13.66" cy="-1.7" rx="4.8" ry="6.4" transform="rotate(-8 -13.66 -1.7)"/><ellipse cx="13.6" cy="0.42" rx="4.8" ry="6.2" transform="rotate(12 13.6 0.42)"/><path d="M-0.70 -1.10 C0.38 -1.07 1.60 -0.33 2.60 0.60 C3.60 1.53 4.13 3.43 5.30 4.50 C6.47 5.57 8.42 6.05 9.60 7.00 C10.78 7.95 11.90 9.03 12.40 10.20 C12.90 11.37 12.87 12.83 12.60 14.00 C12.33 15.17 11.63 16.47 10.80 17.20 C9.97 17.93 8.75 18.40 7.60 18.40 C6.45 18.40 5.33 17.52 3.90 17.20 C2.47 16.88 0.65 16.55 -1.00 16.50 C-2.65 16.45 -4.52 16.65 -6.00 16.90 C-7.48 17.15 -8.75 18.17 -9.90 18.00 C-11.05 17.83 -12.25 16.93 -12.90 15.90 C-13.55 14.87 -13.92 13.18 -13.80 11.80 C-13.68 10.42 -13.00 8.68 -12.20 7.60 C-11.40 6.52 -9.98 5.97 -9.00 5.30 C-8.02 4.63 -7.15 4.42 -6.30 3.60 C-5.45 2.78 -4.83 1.18 -3.90 0.40 C-2.97 -0.38 -1.78 -1.13 -0.70 -1.10Z"/></g>
<g transform="translate(1021.5 838.5) scale(1.000)" fill="#219634"><ellipse cx="-5.66" cy="-11.75" rx="4.95" ry="6.7" transform="rotate(-3 -5.66 -11.75)"/><ellipse cx="6.5" cy="-10.9" rx="5" ry="6.6" transform="rotate(5 6.5 -10.9)"/><ellipse cx="-13.66" cy="-1.7" rx="4.8" ry="6.4" transform="rotate(-8 -13.66 -1.7)"/><ellipse cx="13.6" cy="0.42" rx="4.8" ry="6.2" transform="rotate(12 13.6 0.42)"/><path d="M-0.70 -1.10 C0.38 -1.07 1.60 -0.33 2.60 0.60 C3.60 1.53 4.13 3.43 5.30 4.50 C6.47 5.57 8.42 6.05 9.60 7.00 C10.78 7.95 11.90 9.03 12.40 10.20 C12.90 11.37 12.87 12.83 12.60 14.00 C12.33 15.17 11.63 16.47 10.80 17.20 C9.97 17.93 8.75 18.40 7.60 18.40 C6.45 18.40 5.33 17.52 3.90 17.20 C2.47 16.88 0.65 16.55 -1.00 16.50 C-2.65 16.45 -4.52 16.65 -6.00 16.90 C-7.48 17.15 -8.75 18.17 -9.90 18.00 C-11.05 17.83 -12.25 16.93 -12.90 15.90 C-13.55 14.87 -13.92 13.18 -13.80 11.80 C-13.68 10.42 -13.00 8.68 -12.20 7.60 C-11.40 6.52 -9.98 5.97 -9.00 5.30 C-8.02 4.63 -7.15 4.42 -6.30 3.60 C-5.45 2.78 -4.83 1.18 -3.90 0.40 C-2.97 -0.38 -1.78 -1.13 -0.70 -1.10Z"/></g>
<g transform="translate(1124.4 838.5) scale(1.000)" fill="#F5AB27"><ellipse cx="-5.66" cy="-11.75" rx="4.95" ry="6.7" transform="rotate(-3 -5.66 -11.75)"/><ellipse cx="6.5" cy="-10.9" rx="5" ry="6.6" transform="rotate(5 6.5 -10.9)"/><ellipse cx="-13.66" cy="-1.7" rx="4.8" ry="6.4" transform="rotate(-8 -13.66 -1.7)"/><ellipse cx="13.6" cy="0.42" rx="4.8" ry="6.2" transform="rotate(12 13.6 0.42)"/><path d="M-0.70 -1.10 C0.38 -1.07 1.60 -0.33 2.60 0.60 C3.60 1.53 4.13 3.43 5.30 4.50 C6.47 5.57 8.42 6.05 9.60 7.00 C10.78 7.95 11.90 9.03 12.40 10.20 C12.90 11.37 12.87 12.83 12.60 14.00 C12.33 15.17 11.63 16.47 10.80 17.20 C9.97 17.93 8.75 18.40 7.60 18.40 C6.45 18.40 5.33 17.52 3.90 17.20 C2.47 16.88 0.65 16.55 -1.00 16.50 C-2.65 16.45 -4.52 16.65 -6.00 16.90 C-7.48 17.15 -8.75 18.17 -9.90 18.00 C-11.05 17.83 -12.25 16.93 -12.90 15.90 C-13.55 14.87 -13.92 13.18 -13.80 11.80 C-13.68 10.42 -13.00 8.68 -12.20 7.60 C-11.40 6.52 -9.98 5.97 -9.00 5.30 C-8.02 4.63 -7.15 4.42 -6.30 3.60 C-5.45 2.78 -4.83 1.18 -3.90 0.40 C-2.97 -0.38 -1.78 -1.13 -0.70 -1.10Z"/></g>
<g transform="translate(1631.8 838.5) scale(1.000)" fill="#F5AB27"><ellipse cx="-5.66" cy="-11.75" rx="4.95" ry="6.7" transform="rotate(-3 -5.66 -11.75)"/><ellipse cx="6.5" cy="-10.9" rx="5" ry="6.6" transform="rotate(5 6.5 -10.9)"/><ellipse cx="-13.66" cy="-1.7" rx="4.8" ry="6.4" transform="rotate(-8 -13.66 -1.7)"/><ellipse cx="13.6" cy="0.42" rx="4.8" ry="6.2" transform="rotate(12 13.6 0.42)"/><path d="M-0.70 -1.10 C0.38 -1.07 1.60 -0.33 2.60 0.60 C3.60 1.53 4.13 3.43 5.30 4.50 C6.47 5.57 8.42 6.05 9.60 7.00 C10.78 7.95 11.90 9.03 12.40 10.20 C12.90 11.37 12.87 12.83 12.60 14.00 C12.33 15.17 11.63 16.47 10.80 17.20 C9.97 17.93 8.75 18.40 7.60 18.40 C6.45 18.40 5.33 17.52 3.90 17.20 C2.47 16.88 0.65 16.55 -1.00 16.50 C-2.65 16.45 -4.52 16.65 -6.00 16.90 C-7.48 17.15 -8.75 18.17 -9.90 18.00 C-11.05 17.83 -12.25 16.93 -12.90 15.90 C-13.55 14.87 -13.92 13.18 -13.80 11.80 C-13.68 10.42 -13.00 8.68 -12.20 7.60 C-11.40 6.52 -9.98 5.97 -9.00 5.30 C-8.02 4.63 -7.15 4.42 -6.30 3.60 C-5.45 2.78 -4.83 1.18 -3.90 0.40 C-2.97 -0.38 -1.78 -1.13 -0.70 -1.10Z"/></g>
<g transform="translate(1729.4 838.5) scale(1.000)" fill="#F5DDB0"><ellipse cx="-5.66" cy="-11.75" rx="4.95" ry="6.7" transform="rotate(-3 -5.66 -11.75)"/><ellipse cx="6.5" cy="-10.9" rx="5" ry="6.6" transform="rotate(5 6.5 -10.9)"/><ellipse cx="-13.66" cy="-1.7" rx="4.8" ry="6.4" transform="rotate(-8 -13.66 -1.7)"/><ellipse cx="13.6" cy="0.42" rx="4.8" ry="6.2" transform="rotate(12 13.6 0.42)"/><path d="M-0.70 -1.10 C0.38 -1.07 1.60 -0.33 2.60 0.60 C3.60 1.53 4.13 3.43 5.30 4.50 C6.47 5.57 8.42 6.05 9.60 7.00 C10.78 7.95 11.90 9.03 12.40 10.20 C12.90 11.37 12.87 12.83 12.60 14.00 C12.33 15.17 11.63 16.47 10.80 17.20 C9.97 17.93 8.75 18.40 7.60 18.40 C6.45 18.40 5.33 17.52 3.90 17.20 C2.47 16.88 0.65 16.55 -1.00 16.50 C-2.65 16.45 -4.52 16.65 -6.00 16.90 C-7.48 17.15 -8.75 18.17 -9.90 18.00 C-11.05 17.83 -12.25 16.93 -12.90 15.90 C-13.55 14.87 -13.92 13.18 -13.80 11.80 C-13.68 10.42 -13.00 8.68 -12.20 7.60 C-11.40 6.52 -9.98 5.97 -9.00 5.30 C-8.02 4.63 -7.15 4.42 -6.30 3.60 C-5.45 2.78 -4.83 1.18 -3.90 0.40 C-2.97 -0.38 -1.78 -1.13 -0.70 -1.10Z"/></g>
<g transform="translate(111.4 64.4) rotate(-15.4) scale(0.858 1)"><text x="-1.15" y="-0.55" font-size="25.4" font-weight="bold" fill="#25993A" stroke="#25993A" stroke-width="1.1">ELECCIONS</text></g>
<clipPath id="c14"><rect x="-60" y="-100" width="89" height="88.3"/><rect x="-0.05" y="-100" width="13.55" height="112"/><rect x="29" y="-100" width="95.1" height="112"/><rect x="124" y="-100" width="12" height="56"/></clipPath>
<g transform="translate(145.9 122.3) rotate(-15.3) scale(0.83 1)"><text x="-17.59" y="-1.2" dx="0 4.5 4.9" font-size="80.5" font-weight="bold" fill="#0B1F2B" stroke="#0B1F2B" stroke-width="2.4" clip-path="url(#c14)">14F</text></g>
<path d="M353.7 73.8 A33.9 33.9 0 0 1 421.5 73.8 L404.9 73.8 A17 17 0 0 0 370.9 73.8 Z" fill="#C4211F"/>
<g transform="translate(287.3 87.6) scale(1.12 1)"><text x="0" y="0" font-size="9.3" font-weight="bold" fill="#1E1E1E" stroke="#1E1E1E" stroke-width="0.4" textLength="180.3" lengthAdjust="spacing">PARLAMENT DE CATALUNYA</text></g>
<rect x="880" y="24.2" width="78" height="77.6" fill="#5A1B6A"/>
<text x="890.2" y="60.2" font-size="14.6" font-weight="bold" fill="#fff" stroke="#fff" stroke-width="0.85" stroke-linejoin="round" word-spacing="-2.5" textLength="57.4" lengthAdjust="spacingAndGlyphs">En Comú</text>
<text x="890.2" y="75.9" font-size="14.6" font-weight="bold" fill="#fff" stroke="#fff" stroke-width="0.85" stroke-linejoin="round" textLength="48.8" lengthAdjust="spacingAndGlyphs">Podem</text>
<rect x="981.9" y="24.2" width="78" height="77.6" fill="#FFEF3A"/>
<g fill="#C4161C"><path d="M998 56.1 L1010.9 56.1 L1009.2 59.2 L1000.7 59.2 Z"/><path d="M1003.4 61.3 L1008.4 61.3 L1008.4 63.8 L1005.6 63.8 Z"/><path d="M1006.3 66.2 L1008.8 66.2 L1009.5 69.1 L1003.4 69.1 Z"/><path d="M1001 71.2 L1030.7 71.2 L1030 74.4 L998 74.4 Z"/><path d="M999.6 61.3 L1000.6 63.6 L1003.0 63.8 L1001.2 65.4 L1001.7 67.8 L999.6 66.6 L997.5 67.8 L998.0 65.4 L996.2 63.8 L998.6 63.6 Z"/></g>
<text x="1008.6" y="69.4" font-size="24.4" font-weight="bold" font-style="italic" fill="#000" stroke="#000" stroke-width="1.0" stroke-linejoin="round" textLength="37.6" lengthAdjust="spacingAndGlyphs">cup</text>
<g fill="#EE2524"><path d="M1089.9 80.6 L1089.9 70.9 L1099.9 60.9 L1099.9 80.6 Z"/><path d="M1109.8 80.6 L1109.8 50.9 L1119.8 41 L1119.8 80.6 Z"/><path d="M1129.7 80.6 L1129.7 41 L1139.9 51.2 L1139.9 80.6 Z"/><path d="M1149.6 80.6 L1149.6 60.9 L1159.8 71 L1159.8 80.6 Z"/></g>
<g fill="none" stroke-linecap="butt"><path d="M1144.7 92.2 C1147.2 87 1153.7 80.2 1153.5 74.6 C1153.4 71.2 1151.8 69.9 1149.75 69.9" stroke="#F7B512" stroke-width="4.1"/><path d="M1154.9 92.6 C1152.4 87 1145.8 80.2 1146 74.6 C1146.1 71.2 1147.7 69.9 1149.75 69.9" stroke="#FFCA1A" stroke-width="4.1"/></g>
<text x="1195.6" y="64.1" font-weight="bold" fill="#F26522" stroke="#F26522" stroke-width="1.7"><tspan font-size="53.2" textLength="40" lengthAdjust="spacingAndGlyphs">C</tspan><tspan font-size="47.8" dx="2.5" textLength="24.7" lengthAdjust="spacingAndGlyphs">s</tspan></text>
<path d="M1197 73.1 L1232.1 73.1 L1197 100 Z" fill="#F26522"/>
<rect x="1289.9" y="23.8" width="75.9" height="76.5" rx="2.2" fill="#E30613"/>
<g fill="#fff"><rect x="1305.8" y="30" width="3.1" height="40.8"/><rect x="1311" y="30" width="3.2" height="40.8"/><rect x="1316.6" y="30" width="2.9" height="40.8"/><rect x="1321.8" y="30" width="2.8" height="22"/><rect x="1319.4" y="51.7" width="8.6" height="2.1"/><rect x="1319.4" y="64.8" width="9.6" height="2"/><rect x="1321.3" y="66.7" width="3.2" height="4.1"/><path d="M1329.4 42.2 L1348.6 42.2 Q1351.6 43.6 1350.8 46.3 Q1352.2 48.9 1351 51.5 Q1352.4 54.2 1351 56.9 Q1352.4 59.6 1351 62.3 Q1352 65 1350.2 67.4 Q1350 70.6 1346.6 71.1 L1329.6 71.1 Q1327.2 71.1 1327.2 68.6 L1327.2 60.6 L1326.3 60.6 L1326.3 45 Q1326.4 42.2 1329.4 42.2Z"/><circle cx="1331.7" cy="33.2" r="5.2"/><circle cx="1339" cy="31.8" r="6.3"/><circle cx="1346.2" cy="33.4" r="5.4"/><ellipse cx="1339" cy="38" rx="11.4" ry="5.8"/></g>
<g fill="#E30613"><path d="M1331.9 29 Q1326.4 32.3 1331.7 35.8 Q1329.9 32.3 1331.9 29Z"/><path d="M1333.3 31.3 Q1337 26 1341.2 28.5 L1340.5 29.9 Q1337 28.4 1334.7 31.8Z"/><path d="M1342.5 29.5 Q1347.2 27.6 1349.2 31.8 L1347.7 32.3 Q1346 30.4 1342.9 31Z"/><path d="M1328.5 36.9 Q1332.8 36.8 1335.9 41.6 Q1330.6 43.4 1328.5 36.9Z"/><path d="M1335.2 32.9 Q1331.4 38.6 1340.5 40.1 Q1336 37.6 1337 33.6Z"/><path d="M1341.7 33.5 L1343.5 37 Q1340.6 37.6 1339.3 35.6Z"/><path d="M1344.4 32.9 Q1351 36 1348.1 42.5 Q1345 43.2 1342.1 42.5 Q1347.6 39.6 1344.4 32.9Z"/><circle cx="1338.6" cy="32.6" r="0.9"/><rect x="1338" y="43.4" width="1.7" height="4" rx="0.8"/><rect x="1328.9" y="45.2" width="6.9" height="2.2" rx="1.1"/><rect x="1341.8" y="45.2" width="7.2" height="2.2" rx="1.1"/><rect x="1343.9" y="50.3" width="5.2" height="2.4" rx="1.2"/><rect x="1343.9" y="55.6" width="5.2" height="2.4" rx="1.2"/><rect x="1338" y="61" width="11" height="2.4" rx="1.2"/><rect x="1338" y="66.1" width="9" height="2.4" rx="1.2"/><path d="M1329.9 50.1 L1340.4 50.1 Q1341.4 50.1 1341.4 51.1 L1341.4 57.6 Q1341.4 58.6 1340.4 58.6 L1338 58.6 L1338 53.7 L1335.9 53.7 L1335.9 58.6 L1329.9 58.6 Q1328.9 58.6 1328.9 57.6 L1328.9 51.1 Q1328.9 50.1 1329.9 50.1Z"/><path d="M1326 60.6 L1335.8 60.6 L1335.8 62.4 Q1337 63.6 1335.8 64.8 Q1337 66.6 1335.8 68.5 L1329 68.5 L1329 64.8 L1326 64.8Z"/></g>
<text x="1304.7" y="96.8" font-size="27.6" fill="#fff" textLength="28.2" lengthAdjust="spacingAndGlyphs">PS</text>
<text x="1333.2" y="96.8" font-size="27.6" font-weight="bold" fill="#fff" textLength="17" lengthAdjust="spacingAndGlyphs">C</text>
<rect x="1389" y="23.1" width="77.9" height="77.8" fill="#00C4B3"/>
<text x="1400.7" y="68.4" font-size="22.3" font-weight="bold" fill="#fff" stroke="#fff" stroke-width="0.7" stroke-linejoin="round" textLength="56.8" lengthAdjust="spacingAndGlyphs">junts</text>
<linearGradient id="ppg" gradientUnits="userSpaceOnUse" x1="1501" y1="74" x2="1539" y2="47"><stop offset="0" stop-color="#D9242B"/><stop offset="0.25" stop-color="#E2472A"/><stop offset="0.5" stop-color="#F39A1E"/><stop offset="0.72" stop-color="#F7C617"/><stop offset="0.9" stop-color="#F3A41C"/><stop offset="1" stop-color="#EA6B25"/></linearGradient>
<linearGradient id="ppw" gradientUnits="userSpaceOnUse" x1="1538" y1="52" x2="1552" y2="44"><stop offset="0" stop-color="#EE7F22"/><stop offset="0.35" stop-color="#DE2E2A"/><stop offset="1" stop-color="#D8232A"/></linearGradient>
<circle cx="1531.6" cy="62.5" r="37.6" fill="#0056A8"/>
<path d="M1507.59 79.24 C1506.68 78.11 1503.64 75.00 1502.13 72.45 C1500.61 69.90 1499.10 66.79 1498.49 63.96 C1497.88 61.13 1497.98 58.20 1498.49 55.47 C1499.00 52.74 1499.80 50.01 1501.52 47.59 C1503.24 45.16 1505.97 42.43 1508.80 40.92 C1511.63 39.40 1515.37 38.69 1518.50 38.49 C1521.64 38.29 1524.87 38.89 1527.60 39.70 C1530.33 40.51 1533.01 42.08 1534.88 43.34 C1536.75 44.60 1538.16 46.63 1538.82 47.28 L1538.51 53.35 C1537.50 52.34 1534.67 48.73 1532.45 47.28 C1530.23 45.84 1527.70 45.03 1525.17 44.68 C1522.65 44.32 1519.71 44.37 1517.29 45.16 C1514.86 45.95 1512.44 47.59 1510.62 49.41 C1508.80 51.22 1507.38 53.65 1506.37 56.08 C1505.36 58.50 1504.68 61.33 1504.55 63.96 C1504.43 66.59 1505.02 69.42 1505.65 71.84 C1506.27 74.27 1507.87 77.40 1508.31 78.51 Z" fill="url(#ppg)"/>
<path d="M1538.51 53.35 C1538.56 52.69 1538.41 50.57 1538.82 49.41 C1539.22 48.24 1539.98 47.36 1540.94 46.37 C1541.90 45.38 1542.96 44.21 1544.58 43.46 C1546.20 42.71 1548.62 42.06 1550.64 41.89 C1552.66 41.71 1554.81 41.97 1556.71 42.43 C1558.61 42.90 1561.15 44.30 1562.04 44.68 L1562.04 44.80 C1560.95 44.88 1557.80 44.80 1555.49 45.28 C1553.19 45.77 1550.44 46.70 1548.22 47.71 C1545.99 48.72 1543.77 50.41 1542.15 51.35 C1540.54 52.29 1539.12 53.01 1538.51 53.35 Z" fill="url(#ppw)"/>
<text x="1515.6" y="74.8" font-size="36" font-weight="bold" fill="#fff" stroke="#fff" stroke-width="1.1" stroke-linejoin="round" textLength="44.4" lengthAdjust="spacingAndGlyphs">pp</text>
<text x="1596.6" y="70.4" font-size="26" font-weight="bold" fill="#12A3AE" stroke="#12A3AE" stroke-width="0.5" textLength="50.6" lengthAdjust="spacingAndGlyphs">PNC</text>
<path d="M1647.9 70.7 L1647.9 63 C1647.9 55 1653.5 51.2 1663.9 51.2 L1663.9 59 C1663.9 67 1658.5 70.7 1647.9 70.7 Z" fill="#12A3AE"/>
<g transform="translate(1729.1 63.4)">
<path d="M-6.45 -31.3 L6.45 -31.3 L6.45 -17.4 L0 -11.9 L-6.45 -17.4 Z" transform="rotate(0)" fill="#FFEA00" stroke="#FFEA00" stroke-width="3.2" stroke-linejoin="round"/>
<path d="M-6.45 -31.3 L6.45 -31.3 L6.45 -17.4 L0 -11.9 L-6.45 -17.4 Z" transform="rotate(72)" fill="#FFE800" stroke="#FFE800" stroke-width="3.2" stroke-linejoin="round"/>
<path d="M-6.45 -31.3 L6.45 -31.3 L6.45 -17.4 L0 -11.9 L-6.45 -17.4 Z" transform="rotate(144)" fill="#FFE600" stroke="#FFE600" stroke-width="3.2" stroke-linejoin="round"/>
<path d="M-6.45 -31.3 L6.45 -31.3 L6.45 -17.4 L0 -11.9 L-6.45 -17.4 Z" transform="rotate(216)" fill="#FBD60E" stroke="#FBD60E" stroke-width="3.2" stroke-linejoin="round"/>
<path d="M-6.45 -31.3 L6.45 -31.3 L6.45 -17.4 L0 -11.9 L-6.45 -17.4 Z" transform="rotate(288)" fill="#FAD212" stroke="#FAD212" stroke-width="3.2" stroke-linejoin="round"/>
<clipPath id="pcl"><path d="M-8.0 -33.0 L8.0 -33.0 L8.0 -18 L0 -10.4 L-8.0 -18 Z" transform="rotate(72)"/></clipPath>
<g fill="none" stroke="#CF1820" stroke-width="1.9" clip-path="url(#pcl)"><path d="M21.4 -17 Q16.5 -8 14 1.5"/><path d="M24 -17.5 Q20 -8 17.8 2.5"/><path d="M26.4 -18 Q23.4 -9 22.2 1.5"/><path d="M28.6 -18.4 Q26.8 -10 26.8 -1"/></g>
<circle cx="0" cy="0" r="7.3" fill="#3F5CAF"/>
</g>
<text x="171.6" y="899.8" font-size="21.5" font-weight="bold" fill="#0B1F2B" stroke="#0B1F2B" stroke-width="0.4" textLength="85.4" lengthAdjust="spacingAndGlyphs">Leyenda:</text>
<text x="262.4" y="899.8" font-size="21" fill="#0B1F2B" stroke="#0B1F2B" stroke-width="0.3" textLength="298.8" lengthAdjust="spacingAndGlyphs">¿Lo mencionan en su programa?</text>
<g transform="translate(181.6 920.5) scale(0.560)" fill="#219634"><ellipse cx="-5.66" cy="-11.75" rx="4.95" ry="6.7" transform="rotate(-3 -5.66 -11.75)"/><ellipse cx="6.5" cy="-10.9" rx="5" ry="6.6" transform="rotate(5 6.5 -10.9)"/><ellipse cx="-13.66" cy="-1.7" rx="4.8" ry="6.4" transform="rotate(-8 -13.66 -1.7)"/><ellipse cx="13.6" cy="0.42" rx="4.8" ry="6.2" transform="rotate(12 13.6 0.42)"/><path d="M-0.70 -1.10 C0.38 -1.07 1.60 -0.33 2.60 0.60 C3.60 1.53 4.13 3.43 5.30 4.50 C6.47 5.57 8.42 6.05 9.60 7.00 C10.78 7.95 11.90 9.03 12.40 10.20 C12.90 11.37 12.87 12.83 12.60 14.00 C12.33 15.17 11.63 16.47 10.80 17.20 C9.97 17.93 8.75 18.40 7.60 18.40 C6.45 18.40 5.33 17.52 3.90 17.20 C2.47 16.88 0.65 16.55 -1.00 16.50 C-2.65 16.45 -4.52 16.65 -6.00 16.90 C-7.48 17.15 -8.75 18.17 -9.90 18.00 C-11.05 17.83 -12.25 16.93 -12.90 15.90 C-13.55 14.87 -13.92 13.18 -13.80 11.80 C-13.68 10.42 -13.00 8.68 -12.20 7.60 C-11.40 6.52 -9.98 5.97 -9.00 5.30 C-8.02 4.63 -7.15 4.42 -6.30 3.60 C-5.45 2.78 -4.83 1.18 -3.90 0.40 C-2.97 -0.38 -1.78 -1.13 -0.70 -1.10Z"/></g>
<text x="201.5" y="928.5" font-size="19" fill="#0B1F2B" stroke="#0B1F2B" stroke-width="0.3" textLength="294.5" lengthAdjust="spacingAndGlyphs">Lo menciona de forma comprometida</text>
<g transform="translate(181.6 948.7) scale(0.560)" fill="#F5AB27"><ellipse cx="-5.66" cy="-11.75" rx="4.95" ry="6.7" transform="rotate(-3 -5.66 -11.75)"/><ellipse cx="6.5" cy="-10.9" rx="5" ry="6.6" transform="rotate(5 6.5 -10.9)"/><ellipse cx="-13.66" cy="-1.7" rx="4.8" ry="6.4" transform="rotate(-8 -13.66 -1.7)"/><ellipse cx="13.6" cy="0.42" rx="4.8" ry="6.2" transform="rotate(12 13.6 0.42)"/><path d="M-0.70 -1.10 C0.38 -1.07 1.60 -0.33 2.60 0.60 C3.60 1.53 4.13 3.43 5.30 4.50 C6.47 5.57 8.42 6.05 9.60 7.00 C10.78 7.95 11.90 9.03 12.40 10.20 C12.90 11.37 12.87 12.83 12.60 14.00 C12.33 15.17 11.63 16.47 10.80 17.20 C9.97 17.93 8.75 18.40 7.60 18.40 C6.45 18.40 5.33 17.52 3.90 17.20 C2.47 16.88 0.65 16.55 -1.00 16.50 C-2.65 16.45 -4.52 16.65 -6.00 16.90 C-7.48 17.15 -8.75 18.17 -9.90 18.00 C-11.05 17.83 -12.25 16.93 -12.90 15.90 C-13.55 14.87 -13.92 13.18 -13.80 11.80 C-13.68 10.42 -13.00 8.68 -12.20 7.60 C-11.40 6.52 -9.98 5.97 -9.00 5.30 C-8.02 4.63 -7.15 4.42 -6.30 3.60 C-5.45 2.78 -4.83 1.18 -3.90 0.40 C-2.97 -0.38 -1.78 -1.13 -0.70 -1.10Z"/></g>
<text x="201.5" y="952.8" font-size="19" fill="#0B1F2B" stroke="#0B1F2B" stroke-width="0.3" textLength="193.7" lengthAdjust="spacingAndGlyphs">Lo menciona cláramente</text>
<g transform="translate(522.4 920.5) scale(0.560)" fill="#F5DDB0"><ellipse cx="-5.66" cy="-11.75" rx="4.95" ry="6.7" transform="rotate(-3 -5.66 -11.75)"/><ellipse cx="6.5" cy="-10.9" rx="5" ry="6.6" transform="rotate(5 6.5 -10.9)"/><ellipse cx="-13.66" cy="-1.7" rx="4.8" ry="6.4" transform="rotate(-8 -13.66 -1.7)"/><ellipse cx="13.6" cy="0.42" rx="4.8" ry="6.2" transform="rotate(12 13.6 0.42)"/><path d="M-0.70 -1.10 C0.38 -1.07 1.60 -0.33 2.60 0.60 C3.60 1.53 4.13 3.43 5.30 4.50 C6.47 5.57 8.42 6.05 9.60 7.00 C10.78 7.95 11.90 9.03 12.40 10.20 C12.90 11.37 12.87 12.83 12.60 14.00 C12.33 15.17 11.63 16.47 10.80 17.20 C9.97 17.93 8.75 18.40 7.60 18.40 C6.45 18.40 5.33 17.52 3.90 17.20 C2.47 16.88 0.65 16.55 -1.00 16.50 C-2.65 16.45 -4.52 16.65 -6.00 16.90 C-7.48 17.15 -8.75 18.17 -9.90 18.00 C-11.05 17.83 -12.25 16.93 -12.90 15.90 C-13.55 14.87 -13.92 13.18 -13.80 11.80 C-13.68 10.42 -13.00 8.68 -12.20 7.60 C-11.40 6.52 -9.98 5.97 -9.00 5.30 C-8.02 4.63 -7.15 4.42 -6.30 3.60 C-5.45 2.78 -4.83 1.18 -3.90 0.40 C-2.97 -0.38 -1.78 -1.13 -0.70 -1.10Z"/></g>
<text x="542.5" y="928.5" font-size="19" fill="#0B1F2B" stroke="#0B1F2B" stroke-width="0.3" textLength="197.8" lengthAdjust="spacingAndGlyphs">Lo menciona tácitamente</text>
<g transform="translate(522.4 948.7) scale(0.560)" fill="#D0202F"><ellipse cx="-5.66" cy="-11.75" rx="4.95" ry="6.7" transform="rotate(-3 -5.66 -11.75)"/><ellipse cx="6.5" cy="-10.9" rx="5" ry="6.6" transform="rotate(5 6.5 -10.9)"/><ellipse cx="-13.66" cy="-1.7" rx="4.8" ry="6.4" transform="rotate(-8 -13.66 -1.7)"/><ellipse cx="13.6" cy="0.42" rx="4.8" ry="6.2" transform="rotate(12 13.6 0.42)"/><path d="M-0.70 -1.10 C0.38 -1.07 1.60 -0.33 2.60 0.60 C3.60 1.53 4.13 3.43 5.30 4.50 C6.47 5.57 8.42 6.05 9.60 7.00 C10.78 7.95 11.90 9.03 12.40 10.20 C12.90 11.37 12.87 12.83 12.60 14.00 C12.33 15.17 11.63 16.47 10.80 17.20 C9.97 17.93 8.75 18.40 7.60 18.40 C6.45 18.40 5.33 17.52 3.90 17.20 C2.47 16.88 0.65 16.55 -1.00 16.50 C-2.65 16.45 -4.52 16.65 -6.00 16.90 C-7.48 17.15 -8.75 18.17 -9.90 18.00 C-11.05 17.83 -12.25 16.93 -12.90 15.90 C-13.55 14.87 -13.92 13.18 -13.80 11.80 C-13.68 10.42 -13.00 8.68 -12.20 7.60 C-11.40 6.52 -9.98 5.97 -9.00 5.30 C-8.02 4.63 -7.15 4.42 -6.30 3.60 C-5.45 2.78 -4.83 1.18 -3.90 0.40 C-2.97 -0.38 -1.78 -1.13 -0.70 -1.10Z"/></g>
<text x="542.5" y="952.8" font-size="19" fill="#0B1F2B" stroke="#0B1F2B" stroke-width="0.3" textLength="222.4" lengthAdjust="spacingAndGlyphs">Propone medidas contrarias</text>
<rect x="1594.1" y="885.1" width="198.6" height="75.8" fill="#219634"/>
<path d="M1629.50 902.82 C1630.19 902.44 1631.58 900.98 1631.77 899.78 C1631.96 898.58 1631.45 896.75 1630.63 895.61 C1629.81 894.48 1628.48 893.47 1626.84 892.96 C1625.20 892.46 1622.93 892.27 1620.78 892.58 C1618.63 892.90 1615.98 893.59 1613.95 894.86 C1611.93 896.12 1609.97 898.01 1608.65 900.16 C1607.32 902.31 1606.37 905.47 1605.99 907.74 C1605.61 910.02 1605.80 911.79 1606.37 913.81 C1606.94 915.83 1608.33 918.11 1609.40 919.87 C1610.48 921.64 1612.12 922.40 1612.82 924.42 C1613.51 926.45 1613.20 929.48 1613.57 932.01 C1613.95 934.53 1614.40 937.44 1615.09 939.59 C1615.79 941.73 1616.73 943.38 1617.74 944.89 C1618.76 946.41 1620.33 948.31 1621.16 948.68 C1621.98 949.06 1622.74 948.43 1622.67 947.17 C1622.61 945.90 1621.22 943.06 1620.78 941.10 C1620.33 939.14 1619.64 935.42 1620.02 935.42 C1620.40 935.42 1622.04 939.27 1623.05 941.10 C1624.06 942.94 1625.07 945.08 1626.08 946.41 C1627.10 947.74 1628.36 948.94 1629.12 949.06 C1629.87 949.19 1630.76 948.75 1630.63 947.17 C1630.51 945.59 1629.18 942.24 1628.36 939.59 C1627.54 936.93 1625.71 932.83 1625.71 931.25 C1625.71 929.67 1627.03 930.30 1628.36 930.11 C1629.69 929.92 1632.34 929.73 1633.67 930.11 C1634.99 930.49 1635.43 930.80 1636.32 932.38 C1637.20 933.96 1638.15 937.38 1638.97 939.59 C1639.79 941.80 1640.36 943.95 1641.25 945.65 C1642.13 947.36 1643.52 949.44 1644.28 949.82 C1645.04 950.20 1645.73 949.38 1645.80 947.93 C1645.86 946.47 1644.91 943.31 1644.66 941.10 C1644.41 938.89 1643.84 934.66 1644.28 934.66 C1644.72 934.66 1646.18 939.02 1647.31 941.10 C1648.45 943.19 1649.90 945.72 1651.10 947.17 C1652.30 948.62 1653.76 949.70 1654.51 949.82 C1655.27 949.95 1655.84 949.38 1655.65 947.93 C1655.46 946.47 1654.26 943.38 1653.38 941.10 C1652.49 938.83 1651.17 936.43 1650.34 934.28 C1649.52 932.13 1648.58 930.11 1648.45 928.21 C1648.32 926.32 1648.77 924.80 1649.59 922.91 C1650.41 921.01 1652.18 918.61 1653.38 916.84 C1654.58 915.07 1656.03 913.56 1656.79 912.29 C1657.55 911.03 1657.99 910.15 1657.93 909.26 C1657.86 908.38 1657.42 907.49 1656.41 906.99 C1655.40 906.48 1653.50 906.29 1651.86 906.23 C1650.22 906.17 1647.94 906.23 1646.55 906.61 C1645.16 906.99 1644.15 907.55 1643.52 908.50 C1642.89 909.45 1643.14 911.22 1642.76 912.29 C1642.38 913.37 1642.26 914.25 1641.25 914.95 C1640.24 915.64 1638.72 916.21 1636.70 916.46 C1634.68 916.72 1631.90 916.65 1629.12 916.46 C1626.34 916.27 1622.42 915.89 1620.02 915.33 C1617.62 914.76 1616.04 914.19 1614.71 913.05 C1613.39 911.91 1612.50 910.02 1612.06 908.50 C1611.62 906.99 1611.68 905.47 1612.06 903.95 C1612.44 902.44 1613.26 900.54 1614.33 899.40 C1615.41 898.27 1617.05 897.57 1618.50 897.13 C1619.96 896.69 1621.79 896.50 1623.05 896.75 C1624.32 897.00 1625.33 897.76 1626.08 898.65 C1626.84 899.53 1627.03 901.36 1627.60 902.06 C1628.17 902.75 1628.80 903.20 1629.50 902.82Z" fill="#fff"/>
<g transform="translate(1661.4 926) skewX(-7)"><text x="0" y="0" font-size="44" font-weight="bold" font-style="italic" fill="#fff" textLength="117" lengthAdjust="spacingAndGlyphs">anima</text></g>
<g transform="translate(1660.6 951.2) skewX(-7)"><text x="0" y="0" font-size="34" font-weight="bold" font-style="italic" fill="#fff" textLength="119.5" lengthAdjust="spacingAndGlyphs">naturalis</text></g>
</svg>
</body></html>
